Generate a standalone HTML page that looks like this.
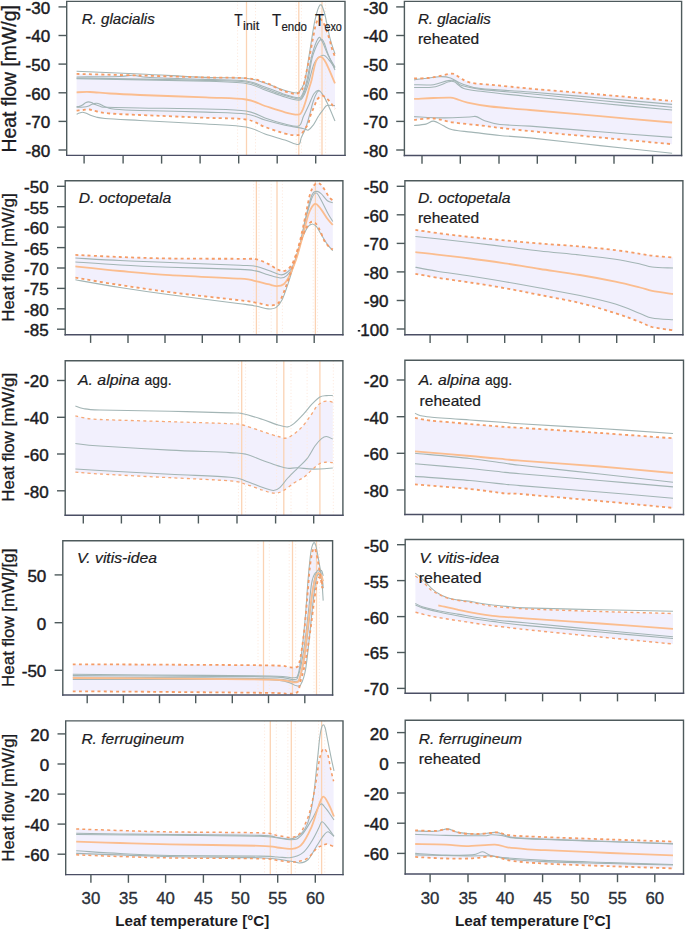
<!DOCTYPE html>
<html><head><meta charset="utf-8"><style>
html,body{margin:0;padding:0;background:#fff;}
svg{display:block;}
text{font-family:"Liberation Sans",sans-serif;fill:#1b1b22;}
.tk{font-size:17px;stroke:#1b1b22;stroke-width:0.45px;}
.xt{font-size:16.8px;fill:#2a2f38;stroke:#2a2f38;stroke-width:0.35px;}
.yl{font-size:16.9px;stroke:#1b1b22;stroke-width:0.3px;}
.sp{font-size:14.8px;font-style:italic;stroke:#1b1b22;stroke-width:0.2px;}
.sr{font-size:14.8px;stroke:#1b1b22;stroke-width:0.2px;}
.tt{font-size:16.6px;stroke:#1b1b22;stroke-width:0.2px;}
.ts{font-size:13px;stroke:#1b1b22;stroke-width:0.2px;}
.xl{font-size:15px;font-weight:bold;}
</style></head><body>
<svg width="685" height="930" viewBox="0 0 685 930">
<rect width="685" height="930" fill="#fff"/>
<path d="M76.6,73.9 C87.2,74.2 118.4,74.9 140.0,75.5 C161.6,76.1 188.3,77.0 206.0,77.4 C223.7,77.9 236.2,77.4 246.0,78.2 C255.8,79.0 259.3,80.6 265.0,82.5 C270.7,84.4 276.0,87.8 280.0,89.5 C284.0,91.2 286.4,91.8 289.0,92.5 C291.6,93.2 293.6,94.2 295.5,94.0 C297.4,93.8 299.4,92.7 300.7,91.3 C302.0,89.9 302.2,90.5 303.5,85.6 C304.8,80.6 307.1,69.0 308.6,61.6 C310.1,54.2 311.1,47.8 312.4,41.3 C313.7,34.8 315.0,26.6 316.3,22.9 C317.6,19.2 318.7,18.8 320.0,19.0 C321.3,19.2 322.5,20.8 324.0,23.9 C325.5,27.0 327.6,33.4 328.9,37.4 C330.2,41.4 330.8,44.7 331.8,48.0 C332.8,51.3 334.5,55.5 335.0,57.0 L335.0,109.0 C334.4,108.1 332.7,105.5 331.4,103.8 C330.1,102.1 328.9,100.3 327.3,99.0 C325.8,97.7 323.8,95.6 322.1,95.7 C320.4,95.8 318.5,97.9 317.3,99.4 C316.1,101.0 315.6,103.1 314.8,105.0 C314.0,106.9 313.2,108.6 312.4,110.6 C311.6,112.6 310.7,114.8 310.0,117.0 C309.3,119.2 309.2,121.6 308.4,123.5 C307.6,125.4 306.4,126.7 305.2,128.4 C304.0,130.2 302.7,132.9 301.1,134.0 C299.5,135.1 298.2,135.3 295.5,135.2 C292.8,135.1 290.1,135.0 285.0,133.6 C279.9,132.2 271.5,129.3 265.0,127.0 C258.5,124.7 255.8,121.0 246.0,119.5 C236.2,118.0 223.7,118.5 206.0,117.8 C188.3,117.0 156.0,115.7 140.0,115.0 C124.0,114.3 117.2,114.1 110.0,113.5 C102.8,112.9 100.4,112.2 97.0,111.5 C93.6,110.8 91.8,109.8 89.5,109.5 C87.2,109.2 85.2,109.8 83.0,110.0 C80.8,110.2 77.7,110.6 76.6,110.7 Z" fill="#f2f0fd" stroke="none"/>
<line x1="237.6" y1="1.4" x2="237.6" y2="155.4" stroke="#fdeadf" stroke-width="1" stroke-dasharray="1.2,2"/>
<line x1="255.5" y1="1.4" x2="255.5" y2="155.4" stroke="#fdeadf" stroke-width="1" stroke-dasharray="1.2,2"/>
<line x1="246.5" y1="1.4" x2="246.5" y2="155.4" stroke="#fbd3b4" stroke-width="1.3"/>
<line x1="296.2" y1="1.4" x2="296.2" y2="155.4" stroke="#fdeadf" stroke-width="1" stroke-dasharray="1.2,2"/>
<line x1="301.4" y1="1.4" x2="301.4" y2="155.4" stroke="#fdeadf" stroke-width="1" stroke-dasharray="1.2,2"/>
<line x1="298.8" y1="1.4" x2="298.8" y2="155.4" stroke="#fbd3b4" stroke-width="1.3"/>
<line x1="320.0" y1="1.4" x2="320.0" y2="155.4" stroke="#fdeadf" stroke-width="1" stroke-dasharray="1.2,2"/>
<line x1="325.6" y1="1.4" x2="325.6" y2="155.4" stroke="#fdeadf" stroke-width="1" stroke-dasharray="1.2,2"/>
<line x1="322.0" y1="1.4" x2="322.0" y2="155.4" stroke="#fbd3b4" stroke-width="1.3"/>
<path d="M76.6,71.2 C87.2,71.7 118.4,73.0 140.0,74.0 C161.6,75.0 188.3,76.7 206.0,77.4 C223.7,78.1 236.2,77.3 246.0,78.2 C255.8,79.1 258.5,81.0 265.0,83.0 C271.5,85.0 279.6,88.8 285.0,90.5 C290.4,92.2 294.4,93.2 297.1,92.9 C299.8,92.6 299.8,91.1 301.1,88.9 C302.4,86.8 303.5,86.5 305.0,80.0 C306.5,73.5 308.3,60.0 310.0,50.0 C311.7,40.0 313.3,27.5 315.0,20.0 C316.7,12.5 318.5,6.3 320.0,5.0 C321.5,3.7 322.5,6.5 324.2,12.0 C325.9,17.6 328.2,31.3 330.0,38.3 C331.8,45.3 334.2,51.4 335.0,54.0" fill="none" stroke="#a3b5b5" stroke-width="1.1"/>
<path d="M76.6,77.0 C83.8,76.9 110.6,76.8 120.0,76.5 C129.4,76.2 128.0,75.1 133.0,75.3 C138.0,75.5 137.8,76.8 150.0,77.5 C162.2,78.2 190.0,78.8 206.0,79.4 C222.0,80.0 236.2,79.7 246.0,81.0 C255.8,82.3 258.5,84.8 265.0,87.0 C271.5,89.2 279.4,92.7 285.0,94.5 C290.6,96.3 295.7,98.0 298.7,97.7 C301.7,97.5 301.6,96.0 303.0,93.0 C304.4,90.0 305.5,86.3 307.0,80.0 C308.5,73.7 310.1,61.9 312.0,55.0 C313.9,48.1 316.5,40.7 318.2,38.4 C319.9,36.1 320.4,38.2 322.0,41.0 C323.6,43.8 325.8,50.7 328.0,55.0 C330.2,59.3 333.8,65.0 335.0,67.0" fill="none" stroke="#a3b5b5" stroke-width="1.1"/>
<path d="M76.6,78.0 C98.2,78.4 177.8,79.7 206.0,80.4 C234.2,81.1 236.2,80.7 246.0,82.0 C255.8,83.3 258.5,86.2 265.0,88.5 C271.5,90.8 279.4,93.8 285.0,95.5 C290.6,97.2 295.7,99.1 298.7,99.0 C301.7,98.9 301.4,98.2 303.0,95.0 C304.6,91.8 306.3,86.7 308.0,80.0 C309.7,73.3 310.7,61.8 313.0,55.0 C315.3,48.2 319.1,39.6 321.6,39.4 C324.1,39.2 325.8,48.9 328.0,54.0 C330.2,59.1 333.8,67.3 335.0,70.0" fill="none" stroke="#a3b5b5" stroke-width="1.1"/>
<path d="M76.6,78.6 C98.2,79.0 177.8,80.4 206.0,81.2 C234.2,82.0 236.2,82.0 246.0,83.5 C255.8,85.0 258.5,87.8 265.0,90.0 C271.5,92.2 279.4,95.3 285.0,97.0 C290.6,98.7 295.7,100.2 298.7,100.2 C301.7,100.2 301.4,99.5 303.0,97.0 C304.6,94.5 306.1,90.7 308.0,85.0 C309.9,79.3 311.9,68.0 314.4,63.0 C316.9,58.0 320.7,55.8 323.1,55.3 C325.5,54.8 327.0,57.9 329.0,60.0 C331.0,62.1 334.0,66.7 335.0,68.0" fill="none" stroke="#a3b5b5" stroke-width="1.1"/>
<path d="M76.6,106.6 C77.1,106.6 78.5,106.7 79.5,106.4 C80.5,106.1 81.5,105.6 82.5,105.0 C83.5,104.4 84.5,103.3 85.5,102.8 C86.5,102.3 87.5,101.9 88.5,101.9 C89.5,101.9 90.4,102.2 91.5,102.6 C92.6,103.0 93.6,103.9 95.0,104.5 C96.4,105.1 98.0,105.8 100.0,106.3 C102.0,106.8 100.3,107.0 107.0,107.3 C113.7,107.6 123.5,107.7 140.0,108.0 C156.5,108.3 188.3,108.5 206.0,109.0 C223.7,109.5 236.2,109.5 246.0,111.0 C255.8,112.5 258.5,115.8 265.0,118.0 C271.5,120.2 279.4,122.7 285.0,124.0 C290.6,125.3 295.6,127.3 298.7,126.0 C301.8,124.7 301.8,119.9 303.5,116.3 C305.2,112.7 307.4,108.0 309.2,104.2 C310.9,100.4 312.4,96.0 314.0,93.7 C315.6,91.4 317.3,90.1 318.9,90.5 C320.5,90.9 322.1,93.5 323.7,96.1 C325.3,98.6 326.6,101.6 328.5,105.8 C330.4,110.0 333.9,118.5 335.0,121.0" fill="none" stroke="#a3b5b5" stroke-width="1.1"/>
<path d="M76.6,107.2 C77.8,107.2 82.1,107.2 84.0,107.0 C85.9,106.8 86.8,106.6 88.0,106.2 C89.2,105.8 90.0,105.2 91.0,104.8 C92.0,104.4 93.0,103.8 94.0,103.6 C95.0,103.3 95.8,103.2 96.7,103.3 C97.6,103.4 98.5,103.6 99.5,104.0 C100.5,104.4 101.6,105.2 103.0,105.8 C104.4,106.4 106.0,107.2 108.0,107.8 C110.0,108.4 109.7,108.8 115.0,109.2 C120.3,109.7 124.8,110.0 140.0,110.5 C155.2,111.0 188.3,111.5 206.0,112.1 C223.7,112.7 236.2,112.7 246.0,114.0 C255.8,115.3 258.5,118.1 265.0,120.0 C271.5,121.9 279.4,123.9 285.0,125.2 C290.6,126.5 295.3,126.9 298.7,127.6 C302.1,128.3 303.6,128.8 305.2,129.2 C306.8,129.6 307.1,130.7 308.4,130.0 C309.7,129.3 311.4,127.6 313.2,125.2 C314.9,122.8 317.1,118.2 318.9,115.5 C320.6,112.8 322.4,110.7 323.7,109.0 C325.0,107.3 325.0,106.0 326.9,105.4 C328.8,104.8 333.6,105.6 335.0,105.6" fill="none" stroke="#a3b5b5" stroke-width="1.1"/>
<path d="M76.6,114.2 C77.1,114.0 78.5,113.3 79.5,113.0 C80.5,112.7 81.3,112.3 82.3,112.3 C83.3,112.3 84.2,112.5 85.5,113.0 C86.8,113.5 88.2,114.3 90.0,115.0 C91.8,115.7 93.5,116.4 96.0,117.0 C98.5,117.6 97.7,117.9 105.0,118.5 C112.3,119.1 123.2,119.6 140.0,120.5 C156.8,121.4 188.3,122.9 206.0,124.0 C223.7,125.1 236.2,125.3 246.0,127.0 C255.8,128.7 258.5,131.8 265.0,134.0 C271.5,136.2 279.4,138.3 285.0,140.1 C290.6,141.8 295.6,144.8 298.3,144.5 C301.0,144.2 300.0,140.7 301.1,138.1 C302.2,135.5 303.9,132.7 305.2,129.2 C306.5,125.7 307.7,121.5 309.0,117.0 C310.3,112.5 311.7,106.1 313.0,102.0 C314.3,97.9 315.9,94.3 317.0,92.5 C318.1,90.7 319.1,91.2 319.5,91.0" fill="none" stroke="#a3b5b5" stroke-width="1.1"/>
<path d="M76.6,92.3 C78.8,92.2 84.4,91.8 90.0,92.0 C95.6,92.2 101.7,93.0 110.0,93.5 C118.3,94.0 124.0,94.3 140.0,95.0 C156.0,95.7 188.3,96.7 206.0,97.4 C223.7,98.2 236.2,98.1 246.0,99.5 C255.8,100.9 258.5,103.9 265.0,106.0 C271.5,108.1 279.5,110.8 285.0,112.3 C290.5,113.8 295.1,114.8 297.9,114.7 C300.7,114.6 300.5,113.9 301.9,111.5 C303.2,109.1 304.8,104.1 306.0,100.2 C307.2,96.3 308.3,91.4 309.2,88.0 C310.1,84.6 310.5,84.4 311.6,80.0 C312.7,75.6 314.3,65.6 315.8,61.7 C317.3,57.8 319.0,56.7 320.7,56.8 C322.4,56.9 323.4,58.1 325.8,62.5 C328.2,66.9 333.5,79.9 335.0,83.4" fill="none" stroke="#fbbd8f" stroke-width="1.8"/>
<path d="M76.6,73.9 C87.2,74.2 118.4,74.9 140.0,75.5 C161.6,76.1 188.3,77.0 206.0,77.4 C223.7,77.9 236.2,77.4 246.0,78.2 C255.8,79.0 259.3,80.6 265.0,82.5 C270.7,84.4 276.0,87.8 280.0,89.5 C284.0,91.2 286.4,91.8 289.0,92.5 C291.6,93.2 293.6,94.2 295.5,94.0 C297.4,93.8 299.4,92.7 300.7,91.3 C302.0,89.9 302.2,90.5 303.5,85.6 C304.8,80.6 307.1,69.0 308.6,61.6 C310.1,54.2 311.1,47.8 312.4,41.3 C313.7,34.8 315.0,26.6 316.3,22.9 C317.6,19.2 318.7,18.8 320.0,19.0 C321.3,19.2 322.5,20.8 324.0,23.9 C325.5,27.0 327.6,33.4 328.9,37.4 C330.2,41.4 330.8,44.7 331.8,48.0 C332.8,51.3 334.5,55.5 335.0,57.0" fill="none" stroke="#f59c66" stroke-width="1.80" stroke-dasharray="3,3.2"/>
<path d="M76.6,110.7 C77.7,110.6 80.8,110.2 83.0,110.0 C85.2,109.8 87.2,109.2 89.5,109.5 C91.8,109.8 93.6,110.8 97.0,111.5 C100.4,112.2 102.8,112.9 110.0,113.5 C117.2,114.1 124.0,114.3 140.0,115.0 C156.0,115.7 188.3,117.0 206.0,117.8 C223.7,118.5 236.2,118.0 246.0,119.5 C255.8,121.0 258.5,124.7 265.0,127.0 C271.5,129.3 279.9,132.2 285.0,133.6 C290.1,135.0 292.8,135.1 295.5,135.2 C298.2,135.3 299.5,135.1 301.1,134.0 C302.7,132.9 304.0,130.2 305.2,128.4 C306.4,126.7 307.6,125.4 308.4,123.5 C309.2,121.6 309.3,119.2 310.0,117.0 C310.7,114.8 311.6,112.6 312.4,110.6 C313.2,108.6 314.0,106.9 314.8,105.0 C315.6,103.1 316.1,101.0 317.3,99.4 C318.5,97.9 320.4,95.8 322.1,95.7 C323.8,95.6 325.8,97.7 327.3,99.0 C328.9,100.3 330.1,102.1 331.4,103.8 C332.7,105.5 334.4,108.1 335.0,109.0" fill="none" stroke="#f59c66" stroke-width="1.80" stroke-dasharray="3,3.2"/>
<path d="M66.7,155.4 V1.4 H345.0 V155.4" fill="none" stroke="#4e5a5c" stroke-width="1.4" stroke-linecap="square"/>
<line x1="66.7" y1="155.4" x2="345.0" y2="155.4" stroke="#4a4e64" stroke-width="1.4" stroke-linecap="square"/>
<line x1="58.5" y1="6.9" x2="66.7" y2="6.9" stroke="#4e5a5c" stroke-width="1.4"/>
<text x="50.2" y="13.8" text-anchor="end" class="tk">-30</text>
<line x1="58.5" y1="35.5" x2="66.7" y2="35.5" stroke="#4e5a5c" stroke-width="1.4"/>
<text x="50.2" y="42.4" text-anchor="end" class="tk">-40</text>
<line x1="58.5" y1="64.1" x2="66.7" y2="64.1" stroke="#4e5a5c" stroke-width="1.4"/>
<text x="50.2" y="71.0" text-anchor="end" class="tk">-50</text>
<line x1="58.5" y1="92.8" x2="66.7" y2="92.8" stroke="#4e5a5c" stroke-width="1.4"/>
<text x="50.2" y="99.7" text-anchor="end" class="tk">-60</text>
<line x1="58.5" y1="121.4" x2="66.7" y2="121.4" stroke="#4e5a5c" stroke-width="1.4"/>
<text x="50.2" y="128.3" text-anchor="end" class="tk">-70</text>
<line x1="58.5" y1="150.0" x2="66.7" y2="150.0" stroke="#4e5a5c" stroke-width="1.4"/>
<text x="50.2" y="156.9" text-anchor="end" class="tk">-80</text>
<line x1="84.1" y1="155.4" x2="84.1" y2="163.6" stroke="#4e5a5c" stroke-width="1.4"/>
<line x1="123.1" y1="155.4" x2="123.1" y2="163.6" stroke="#4e5a5c" stroke-width="1.4"/>
<line x1="161.6" y1="155.4" x2="161.6" y2="163.6" stroke="#4e5a5c" stroke-width="1.4"/>
<line x1="200.1" y1="155.4" x2="200.1" y2="163.6" stroke="#4e5a5c" stroke-width="1.4"/>
<line x1="238.7" y1="155.4" x2="238.7" y2="163.6" stroke="#4e5a5c" stroke-width="1.4"/>
<line x1="277.2" y1="155.4" x2="277.2" y2="163.6" stroke="#4e5a5c" stroke-width="1.4"/>
<line x1="315.7" y1="155.4" x2="315.7" y2="163.6" stroke="#4e5a5c" stroke-width="1.4"/>
<path d="M414.1,78.4 C416.4,78.3 423.6,78.4 427.8,78.0 C432.0,77.6 435.2,76.8 439.2,76.1 C443.1,75.4 448.7,73.8 451.5,73.7 C454.3,73.6 454.5,74.3 456.2,75.2 C457.9,76.1 459.4,77.7 461.9,79.0 C464.4,80.3 466.6,81.8 471.4,82.8 C476.1,83.8 484.1,84.1 490.4,84.7 C496.7,85.3 502.8,85.9 509.4,86.6 C516.0,87.2 514.9,87.3 530.0,88.6 C545.1,89.9 576.3,92.4 600.0,94.5 C623.7,96.6 660.1,99.9 672.1,101.0 L672.1,144.2 C660.1,143.1 623.7,139.7 600.0,137.5 C576.3,135.3 546.7,132.7 530.0,131.1 C513.3,129.5 508.1,128.8 499.9,127.9 C491.7,127.0 488.8,126.4 480.9,125.5 C473.0,124.6 460.3,123.5 452.4,122.3 C444.5,121.1 439.9,118.9 433.5,118.5 C427.1,118.1 417.3,119.6 414.1,119.8 Z" fill="#f2f0fd" stroke="none"/>
<path d="M414.1,79.9 C418.3,79.4 433.1,77.0 439.2,76.7 C445.3,76.4 446.7,76.8 450.5,78.0 C454.3,79.2 456.8,82.0 461.9,83.7 C467.0,85.5 469.5,87.1 480.9,88.5 C492.2,89.9 510.1,90.4 530.0,92.0 C549.9,93.6 576.3,95.9 600.0,98.0 C623.7,100.1 660.1,103.3 672.1,104.4" fill="none" stroke="#a3b5b5" stroke-width="1.1"/>
<path d="M414.1,84.7 C417.3,84.7 428.1,85.3 433.5,84.7 C438.9,84.1 443.3,81.6 446.8,80.9 C450.3,80.2 451.8,79.7 454.3,80.5 C456.8,81.3 457.5,84.1 461.9,85.6 C466.3,87.1 469.5,88.0 480.9,89.4 C492.2,90.8 510.1,92.0 530.0,93.8 C549.9,95.6 576.3,98.2 600.0,100.5 C623.7,102.8 660.1,106.2 672.1,107.3" fill="none" stroke="#a3b5b5" stroke-width="1.1"/>
<path d="M414.1,87.5 C417.3,87.4 427.7,88.0 433.5,87.0 C439.3,86.0 445.2,82.7 448.7,81.8 C452.2,80.9 451.8,80.7 454.3,81.8 C456.8,82.9 459.4,86.9 463.8,88.5 C468.2,90.1 469.9,89.9 480.9,91.3 C491.9,92.7 510.1,94.7 530.0,96.7 C549.9,98.7 576.3,101.1 600.0,103.3 C623.7,105.5 660.1,108.9 672.1,110.0" fill="none" stroke="#a3b5b5" stroke-width="1.1"/>
<path d="M414.1,116.6 C418.9,116.8 433.8,117.8 443.0,117.9 C452.2,118.0 464.0,117.2 469.5,117.0 C475.0,116.8 473.7,116.0 476.2,116.6 C478.7,117.2 480.8,119.4 484.7,120.7 C488.6,122.0 492.3,123.6 499.9,124.5 C507.4,125.4 513.3,124.9 530.0,126.1 C546.7,127.3 576.3,129.9 600.0,131.8 C623.7,133.7 660.1,136.5 672.1,137.4" fill="none" stroke="#a3b5b5" stroke-width="1.1"/>
<path d="M414.1,125.5 C416.1,125.3 422.7,124.8 425.9,124.1 C429.1,123.4 430.6,120.9 433.5,121.1 C436.4,121.3 439.9,124.0 443.0,125.5 C446.1,127.0 447.7,128.7 452.4,129.8 C457.1,130.9 463.5,131.2 471.4,132.1 C479.3,133.0 490.1,134.5 499.9,135.5 C509.7,136.5 513.3,136.2 530.0,137.9 C546.7,139.6 576.3,143.0 600.0,145.6 C623.7,148.2 660.1,152.0 672.1,153.3" fill="none" stroke="#a3b5b5" stroke-width="1.1"/>
<path d="M414.1,98.9 C417.3,98.8 427.4,98.2 433.5,98.0 C439.6,97.8 446.7,97.4 450.5,97.6 C454.3,97.8 453.3,98.1 456.2,98.9 C459.1,99.8 461.9,101.4 467.6,102.7 C473.3,104.0 480.0,105.3 490.4,106.5 C500.8,107.7 511.7,108.4 530.0,110.0 C548.3,111.6 576.3,114.1 600.0,116.2 C623.7,118.3 660.1,121.5 672.1,122.5" fill="none" stroke="#fbbd8f" stroke-width="1.8"/>
<path d="M414.1,78.4 C416.4,78.3 423.6,78.4 427.8,78.0 C432.0,77.6 435.2,76.8 439.2,76.1 C443.1,75.4 448.7,73.8 451.5,73.7 C454.3,73.6 454.5,74.3 456.2,75.2 C457.9,76.1 459.4,77.7 461.9,79.0 C464.4,80.3 466.6,81.8 471.4,82.8 C476.1,83.8 484.1,84.1 490.4,84.7 C496.7,85.3 502.8,85.9 509.4,86.6 C516.0,87.2 514.9,87.3 530.0,88.6 C545.1,89.9 576.3,92.4 600.0,94.5 C623.7,96.6 660.1,99.9 672.1,101.0" fill="none" stroke="#f59c66" stroke-width="1.80" stroke-dasharray="3,3.2"/>
<path d="M414.1,119.8 C417.3,119.6 427.1,118.1 433.5,118.5 C439.9,118.9 444.5,121.1 452.4,122.3 C460.3,123.5 473.0,124.6 480.9,125.5 C488.8,126.4 491.7,127.0 499.9,127.9 C508.1,128.8 513.3,129.5 530.0,131.1 C546.7,132.7 576.3,135.3 600.0,137.5 C623.7,139.7 660.1,143.1 672.1,144.2" fill="none" stroke="#f59c66" stroke-width="1.80" stroke-dasharray="3,3.2"/>
<path d="M404.4,155.5 V1.4 H681.6 V155.5" fill="none" stroke="#4e5a5c" stroke-width="1.4" stroke-linecap="square"/>
<line x1="404.4" y1="155.5" x2="681.6" y2="155.5" stroke="#4a4e64" stroke-width="1.4" stroke-linecap="square"/>
<line x1="396.2" y1="6.9" x2="404.4" y2="6.9" stroke="#4e5a5c" stroke-width="1.4"/>
<text x="387.9" y="13.8" text-anchor="end" class="tk">-30</text>
<line x1="396.2" y1="35.5" x2="404.4" y2="35.5" stroke="#4e5a5c" stroke-width="1.4"/>
<text x="387.9" y="42.4" text-anchor="end" class="tk">-40</text>
<line x1="396.2" y1="64.1" x2="404.4" y2="64.1" stroke="#4e5a5c" stroke-width="1.4"/>
<text x="387.9" y="71.0" text-anchor="end" class="tk">-50</text>
<line x1="396.2" y1="92.8" x2="404.4" y2="92.8" stroke="#4e5a5c" stroke-width="1.4"/>
<text x="387.9" y="99.7" text-anchor="end" class="tk">-60</text>
<line x1="396.2" y1="121.4" x2="404.4" y2="121.4" stroke="#4e5a5c" stroke-width="1.4"/>
<text x="387.9" y="128.3" text-anchor="end" class="tk">-70</text>
<line x1="396.2" y1="150.0" x2="404.4" y2="150.0" stroke="#4e5a5c" stroke-width="1.4"/>
<text x="387.9" y="156.9" text-anchor="end" class="tk">-80</text>
<line x1="422.0" y1="155.5" x2="422.0" y2="163.7" stroke="#4e5a5c" stroke-width="1.4"/>
<line x1="460.3" y1="155.5" x2="460.3" y2="163.7" stroke="#4e5a5c" stroke-width="1.4"/>
<line x1="499.0" y1="155.5" x2="499.0" y2="163.7" stroke="#4e5a5c" stroke-width="1.4"/>
<line x1="537.3" y1="155.5" x2="537.3" y2="163.7" stroke="#4e5a5c" stroke-width="1.4"/>
<line x1="575.6" y1="155.5" x2="575.6" y2="163.7" stroke="#4e5a5c" stroke-width="1.4"/>
<line x1="614.0" y1="155.5" x2="614.0" y2="163.7" stroke="#4e5a5c" stroke-width="1.4"/>
<line x1="652.6" y1="155.5" x2="652.6" y2="163.7" stroke="#4e5a5c" stroke-width="1.4"/>
<path d="M75.4,254.9 C82.8,255.2 104.2,256.4 120.0,257.0 C135.8,257.6 150.0,258.2 170.0,258.5 C190.0,258.8 225.7,258.7 240.0,258.8 C254.3,258.9 250.9,258.4 255.6,259.2 C260.3,260.0 264.5,262.2 268.1,263.9 C271.7,265.6 274.8,268.2 277.4,269.4 C280.0,270.6 281.9,271.1 283.7,271.0 C285.5,270.9 286.8,270.0 288.4,268.6 C289.9,267.2 291.2,266.6 293.0,262.4 C294.8,258.2 297.2,251.4 299.3,243.6 C301.4,235.8 303.7,223.9 305.5,215.6 C307.3,207.3 308.6,198.9 310.2,193.7 C311.8,188.5 313.3,186.1 314.9,184.4 C316.5,182.7 318.1,182.8 319.6,183.6 C321.2,184.4 322.6,186.8 324.2,189.0 C325.8,191.2 327.5,194.9 328.9,196.8 C330.3,198.7 332.1,199.9 332.8,200.5 L332.8,249.6 C332.1,249.1 330.3,248.3 328.9,246.8 C327.5,245.3 325.8,243.4 324.2,240.5 C322.6,237.6 321.2,232.6 319.6,229.6 C318.1,226.6 316.5,223.8 314.9,222.6 C313.3,221.4 311.8,221.4 310.2,222.6 C308.6,223.8 307.3,225.8 305.5,229.6 C303.7,233.4 301.4,239.2 299.3,245.2 C297.2,251.2 295.1,259.0 293.0,265.5 C290.9,272.0 288.9,278.5 286.8,284.2 C284.7,289.9 282.4,296.4 280.6,299.8 C278.8,303.2 278.0,303.6 275.9,304.5 C273.8,305.4 271.5,305.6 268.1,305.3 C264.7,305.0 260.3,303.4 255.6,302.6 C250.9,301.8 254.3,302.0 240.0,300.3 C225.7,298.6 190.0,294.8 170.0,292.2 C150.0,289.6 135.8,287.4 120.0,285.0 C104.2,282.6 82.8,278.9 75.4,277.7 Z" fill="#f2f0fd" stroke="none"/>
<line x1="253.7" y1="180.7" x2="253.7" y2="334.7" stroke="#fdeadf" stroke-width="1" stroke-dasharray="1.2,2"/>
<line x1="259.0" y1="180.7" x2="259.0" y2="334.7" stroke="#fdeadf" stroke-width="1" stroke-dasharray="1.2,2"/>
<line x1="256.4" y1="180.7" x2="256.4" y2="334.7" stroke="#fbd3b4" stroke-width="1.3"/>
<line x1="271.2" y1="180.7" x2="271.2" y2="334.7" stroke="#fdeadf" stroke-width="1" stroke-dasharray="1.2,2"/>
<line x1="282.4" y1="180.7" x2="282.4" y2="334.7" stroke="#fdeadf" stroke-width="1" stroke-dasharray="1.2,2"/>
<line x1="277.0" y1="180.7" x2="277.0" y2="334.7" stroke="#fbd3b4" stroke-width="1.3"/>
<line x1="313.2" y1="180.7" x2="313.2" y2="334.7" stroke="#fdeadf" stroke-width="1" stroke-dasharray="1.2,2"/>
<line x1="317.6" y1="180.7" x2="317.6" y2="334.7" stroke="#fdeadf" stroke-width="1" stroke-dasharray="1.2,2"/>
<line x1="315.4" y1="180.7" x2="315.4" y2="334.7" stroke="#fbd3b4" stroke-width="1.3"/>
<path d="M75.4,258.0 C82.8,258.4 104.2,259.8 120.0,260.5 C135.8,261.2 150.0,261.7 170.0,262.5 C190.0,263.3 225.7,264.6 240.0,265.2 C254.3,265.8 250.9,265.5 255.6,266.3 C260.3,267.1 263.9,268.8 268.1,270.2 C272.3,271.6 277.5,274.4 280.6,274.8 C283.7,275.2 284.7,274.1 286.8,272.5 C288.9,270.9 290.9,269.8 293.0,265.5 C295.1,261.2 297.2,254.6 299.3,246.8 C301.4,239.0 303.4,227.3 305.5,218.7 C307.6,210.1 310.0,199.9 311.8,195.3 C313.6,190.8 314.8,191.7 316.4,191.4 C317.9,191.1 319.3,192.1 321.1,193.7 C322.9,195.2 325.4,199.2 327.4,200.7 C329.3,202.2 331.9,202.5 332.8,202.8" fill="none" stroke="#a3b5b5" stroke-width="1.1"/>
<path d="M75.4,262.0 C82.8,262.5 104.2,264.1 120.0,265.0 C135.8,265.9 150.0,266.5 170.0,267.2 C190.0,267.9 225.7,268.8 240.0,269.4 C254.3,270.0 250.9,270.0 255.6,270.9 C260.3,271.8 263.9,273.6 268.1,274.8 C272.3,276.0 277.5,277.9 280.6,278.0 C283.7,278.1 284.7,277.4 286.8,275.6 C288.9,273.8 290.9,271.6 293.0,267.0 C295.1,262.4 297.2,256.1 299.3,248.3 C301.4,240.5 303.4,228.5 305.5,220.2 C307.6,211.9 310.0,202.9 311.8,198.4 C313.6,193.9 314.8,192.7 316.4,193.0 C317.9,193.3 319.3,196.8 321.1,200.0 C322.9,203.2 325.4,208.8 327.4,212.4 C329.3,216.0 331.9,220.0 332.8,221.5" fill="none" stroke="#a3b5b5" stroke-width="1.1"/>
<path d="M75.4,279.8 C82.8,281.1 104.2,285.0 120.0,287.5 C135.8,290.0 150.0,292.1 170.0,294.8 C190.0,297.5 225.7,301.8 240.0,303.7 C254.3,305.6 250.9,305.1 255.6,306.0 C260.3,306.9 264.7,308.6 268.1,308.9 C271.5,309.2 273.6,309.1 275.9,307.6 C278.2,306.1 280.0,304.0 282.1,299.8 C284.2,295.6 286.3,288.8 288.4,282.6 C290.5,276.4 292.5,269.1 294.6,262.4 C296.7,255.6 298.7,247.8 300.8,242.1 C302.9,236.4 305.3,231.0 307.1,228.0 C308.9,225.0 310.2,224.3 311.8,224.1 C313.4,223.8 314.8,224.8 316.4,226.5 C317.9,228.2 319.3,231.3 321.1,234.3 C322.9,237.3 325.4,241.7 327.4,244.4 C329.3,247.1 331.9,249.6 332.8,250.7" fill="none" stroke="#a3b5b5" stroke-width="1.1"/>
<path d="M75.4,266.4 C82.8,267.2 104.2,269.6 120.0,271.0 C135.8,272.4 150.0,273.8 170.0,275.1 C190.0,276.4 225.7,277.7 240.0,278.7 C254.3,279.7 250.9,280.2 255.6,281.1 C260.3,282.0 264.6,283.4 268.1,284.2 C271.6,285.0 274.1,286.1 276.7,286.1 C279.3,286.1 281.5,286.1 283.7,284.2 C285.9,282.3 287.8,279.0 289.9,274.8 C292.0,270.6 294.1,265.4 296.2,259.2 C298.3,253.0 300.3,244.9 302.4,237.4 C304.5,229.9 306.5,219.6 308.6,214.0 C310.7,208.4 312.8,204.7 314.9,203.9 C317.0,203.1 319.0,206.8 321.1,209.3 C323.2,211.8 325.4,216.1 327.4,218.7 C329.3,221.3 331.9,223.9 332.8,224.9" fill="none" stroke="#fbbd8f" stroke-width="1.8"/>
<path d="M75.4,254.9 C82.8,255.2 104.2,256.4 120.0,257.0 C135.8,257.6 150.0,258.2 170.0,258.5 C190.0,258.8 225.7,258.7 240.0,258.8 C254.3,258.9 250.9,258.4 255.6,259.2 C260.3,260.0 264.5,262.2 268.1,263.9 C271.7,265.6 274.8,268.2 277.4,269.4 C280.0,270.6 281.9,271.1 283.7,271.0 C285.5,270.9 286.8,270.0 288.4,268.6 C289.9,267.2 291.2,266.6 293.0,262.4 C294.8,258.2 297.2,251.4 299.3,243.6 C301.4,235.8 303.7,223.9 305.5,215.6 C307.3,207.3 308.6,198.9 310.2,193.7 C311.8,188.5 313.3,186.1 314.9,184.4 C316.5,182.7 318.1,182.8 319.6,183.6 C321.2,184.4 322.6,186.8 324.2,189.0 C325.8,191.2 327.5,194.9 328.9,196.8 C330.3,198.7 332.1,199.9 332.8,200.5" fill="none" stroke="#f59c66" stroke-width="1.80" stroke-dasharray="3,3.2"/>
<path d="M75.4,277.7 C82.8,278.9 104.2,282.6 120.0,285.0 C135.8,287.4 150.0,289.6 170.0,292.2 C190.0,294.8 225.7,298.6 240.0,300.3 C254.3,302.0 250.9,301.8 255.6,302.6 C260.3,303.4 264.7,305.0 268.1,305.3 C271.5,305.6 273.8,305.4 275.9,304.5 C278.0,303.6 278.8,303.2 280.6,299.8 C282.4,296.4 284.7,289.9 286.8,284.2 C288.9,278.5 290.9,272.0 293.0,265.5 C295.1,259.0 297.2,251.2 299.3,245.2 C301.4,239.2 303.7,233.4 305.5,229.6 C307.3,225.8 308.6,223.8 310.2,222.6 C311.8,221.4 313.3,221.4 314.9,222.6 C316.5,223.8 318.1,226.6 319.6,229.6 C321.2,232.6 322.6,237.6 324.2,240.5 C325.8,243.4 327.5,245.3 328.9,246.8 C330.3,248.3 332.1,249.1 332.8,249.6" fill="none" stroke="#f59c66" stroke-width="1.80" stroke-dasharray="3,3.2"/>
<path d="M65.2,334.7 V180.7 H342.9 V334.7" fill="none" stroke="#4e5a5c" stroke-width="1.4" stroke-linecap="square"/>
<line x1="65.2" y1="334.7" x2="342.9" y2="334.7" stroke="#4a4e64" stroke-width="1.4" stroke-linecap="square"/>
<line x1="57.0" y1="186.3" x2="65.2" y2="186.3" stroke="#4e5a5c" stroke-width="1.4"/>
<text x="48.7" y="193.2" text-anchor="end" class="tk">-50</text>
<line x1="57.0" y1="206.7" x2="65.2" y2="206.7" stroke="#4e5a5c" stroke-width="1.4"/>
<text x="48.7" y="213.6" text-anchor="end" class="tk">-55</text>
<line x1="57.0" y1="227.1" x2="65.2" y2="227.1" stroke="#4e5a5c" stroke-width="1.4"/>
<text x="48.7" y="234.0" text-anchor="end" class="tk">-60</text>
<line x1="57.0" y1="247.6" x2="65.2" y2="247.6" stroke="#4e5a5c" stroke-width="1.4"/>
<text x="48.7" y="254.5" text-anchor="end" class="tk">-65</text>
<line x1="57.0" y1="268.0" x2="65.2" y2="268.0" stroke="#4e5a5c" stroke-width="1.4"/>
<text x="48.7" y="274.9" text-anchor="end" class="tk">-70</text>
<line x1="57.0" y1="288.4" x2="65.2" y2="288.4" stroke="#4e5a5c" stroke-width="1.4"/>
<text x="48.7" y="295.3" text-anchor="end" class="tk">-75</text>
<line x1="57.0" y1="308.8" x2="65.2" y2="308.8" stroke="#4e5a5c" stroke-width="1.4"/>
<text x="48.7" y="315.7" text-anchor="end" class="tk">-80</text>
<line x1="57.0" y1="329.2" x2="65.2" y2="329.2" stroke="#4e5a5c" stroke-width="1.4"/>
<text x="48.7" y="336.1" text-anchor="end" class="tk">-85</text>
<line x1="90.6" y1="334.7" x2="90.6" y2="342.9" stroke="#4e5a5c" stroke-width="1.4"/>
<line x1="128.0" y1="334.7" x2="128.0" y2="342.9" stroke="#4e5a5c" stroke-width="1.4"/>
<line x1="165.0" y1="334.7" x2="165.0" y2="342.9" stroke="#4e5a5c" stroke-width="1.4"/>
<line x1="202.3" y1="334.7" x2="202.3" y2="342.9" stroke="#4e5a5c" stroke-width="1.4"/>
<line x1="239.6" y1="334.7" x2="239.6" y2="342.9" stroke="#4e5a5c" stroke-width="1.4"/>
<line x1="276.9" y1="334.7" x2="276.9" y2="342.9" stroke="#4e5a5c" stroke-width="1.4"/>
<line x1="314.2" y1="334.7" x2="314.2" y2="342.9" stroke="#4e5a5c" stroke-width="1.4"/>
<path d="M415.4,229.9 C419.0,230.4 428.1,231.8 437.2,233.0 C446.3,234.2 458.7,235.8 470.0,237.0 C481.3,238.2 493.3,239.3 505.0,240.4 C516.7,241.5 527.5,242.5 540.0,243.5 C552.5,244.5 567.4,245.4 580.0,246.5 C592.6,247.6 605.4,248.9 615.4,250.1 C625.4,251.3 633.4,252.8 640.0,253.8 C646.6,254.8 649.5,255.4 655.0,256.0 C660.5,256.6 670.0,257.2 673.0,257.4 L673.0,330.3 C669.5,329.8 657.6,328.4 652.1,327.0 C646.6,325.6 646.1,324.3 640.0,322.0 C633.9,319.7 625.4,316.4 615.4,313.2 C605.4,310.0 592.6,306.0 580.0,303.0 C567.4,300.0 552.5,297.5 540.0,295.0 C527.5,292.5 516.7,290.3 505.0,288.2 C493.3,286.1 481.3,284.2 470.0,282.5 C458.7,280.8 446.3,279.1 437.2,277.7 C428.1,276.2 419.0,274.4 415.4,273.8 Z" fill="#f2f0fd" stroke="none"/>
<path d="M415.4,236.5 C419.0,236.9 428.1,237.8 437.2,238.8 C446.3,239.8 458.7,241.2 470.0,242.5 C481.3,243.8 493.3,245.3 505.0,246.7 C516.7,248.1 527.5,249.6 540.0,251.0 C552.5,252.4 567.4,253.6 580.0,255.0 C592.6,256.4 605.4,257.8 615.4,259.3 C625.4,260.8 633.9,262.7 640.0,264.0 C646.1,265.3 646.6,266.3 652.1,267.0 C657.6,267.7 669.5,267.8 673.0,268.0" fill="none" stroke="#a3b5b5" stroke-width="1.1"/>
<path d="M415.4,267.2 C419.0,267.9 428.1,269.7 437.2,271.2 C446.3,272.7 458.7,274.2 470.0,276.0 C481.3,277.8 493.3,279.7 505.0,281.7 C516.7,283.7 527.5,285.7 540.0,288.0 C552.5,290.3 567.4,292.8 580.0,295.5 C592.6,298.2 605.4,301.0 615.4,304.0 C625.4,307.0 633.9,311.2 640.0,313.5 C646.1,315.8 646.6,316.9 652.1,318.0 C657.6,319.1 669.5,319.5 673.0,319.8" fill="none" stroke="#a3b5b5" stroke-width="1.1"/>
<path d="M415.4,252.2 C419.0,252.6 428.1,253.5 437.2,254.6 C446.3,255.7 458.7,257.1 470.0,258.5 C481.3,259.9 493.3,261.6 505.0,263.3 C516.7,265.1 527.5,267.1 540.0,269.0 C552.5,270.9 567.4,272.9 580.0,275.0 C592.6,277.1 605.4,279.6 615.4,281.7 C625.4,283.8 633.9,286.0 640.0,287.5 C646.1,289.0 646.6,289.8 652.1,290.9 C657.6,292.0 669.5,293.5 673.0,294.0" fill="none" stroke="#fbbd8f" stroke-width="1.8"/>
<path d="M415.4,229.9 C419.0,230.4 428.1,231.8 437.2,233.0 C446.3,234.2 458.7,235.8 470.0,237.0 C481.3,238.2 493.3,239.3 505.0,240.4 C516.7,241.5 527.5,242.5 540.0,243.5 C552.5,244.5 567.4,245.4 580.0,246.5 C592.6,247.6 605.4,248.9 615.4,250.1 C625.4,251.3 633.4,252.8 640.0,253.8 C646.6,254.8 649.5,255.4 655.0,256.0 C660.5,256.6 670.0,257.2 673.0,257.4" fill="none" stroke="#f59c66" stroke-width="1.80" stroke-dasharray="3,3.2"/>
<path d="M415.4,273.8 C419.0,274.4 428.1,276.2 437.2,277.7 C446.3,279.1 458.7,280.8 470.0,282.5 C481.3,284.2 493.3,286.1 505.0,288.2 C516.7,290.3 527.5,292.5 540.0,295.0 C552.5,297.5 567.4,300.0 580.0,303.0 C592.6,306.0 605.4,310.0 615.4,313.2 C625.4,316.4 633.9,319.7 640.0,322.0 C646.1,324.3 646.6,325.6 652.1,327.0 C657.6,328.4 669.5,329.8 673.0,330.3" fill="none" stroke="#f59c66" stroke-width="1.80" stroke-dasharray="3,3.2"/>
<path d="M404.9,334.7 V180.7 H682.9 V334.7" fill="none" stroke="#4e5a5c" stroke-width="1.4" stroke-linecap="square"/>
<line x1="404.9" y1="334.7" x2="682.9" y2="334.7" stroke="#4a4e64" stroke-width="1.4" stroke-linecap="square"/>
<line x1="396.7" y1="186.3" x2="404.9" y2="186.3" stroke="#4e5a5c" stroke-width="1.4"/>
<text x="388.4" y="193.2" text-anchor="end" class="tk">-50</text>
<line x1="396.7" y1="214.8" x2="404.9" y2="214.8" stroke="#4e5a5c" stroke-width="1.4"/>
<text x="388.4" y="221.7" text-anchor="end" class="tk">-60</text>
<line x1="396.7" y1="243.4" x2="404.9" y2="243.4" stroke="#4e5a5c" stroke-width="1.4"/>
<text x="388.4" y="250.3" text-anchor="end" class="tk">-70</text>
<line x1="396.7" y1="271.9" x2="404.9" y2="271.9" stroke="#4e5a5c" stroke-width="1.4"/>
<text x="388.4" y="278.8" text-anchor="end" class="tk">-80</text>
<line x1="396.7" y1="300.5" x2="404.9" y2="300.5" stroke="#4e5a5c" stroke-width="1.4"/>
<text x="388.4" y="307.4" text-anchor="end" class="tk">-90</text>
<line x1="396.7" y1="329.0" x2="404.9" y2="329.0" stroke="#4e5a5c" stroke-width="1.4"/>
<line x1="430.1" y1="334.7" x2="430.1" y2="342.9" stroke="#4e5a5c" stroke-width="1.4"/>
<line x1="467.4" y1="334.7" x2="467.4" y2="342.9" stroke="#4e5a5c" stroke-width="1.4"/>
<line x1="504.7" y1="334.7" x2="504.7" y2="342.9" stroke="#4e5a5c" stroke-width="1.4"/>
<line x1="541.8" y1="334.7" x2="541.8" y2="342.9" stroke="#4e5a5c" stroke-width="1.4"/>
<line x1="579.4" y1="334.7" x2="579.4" y2="342.9" stroke="#4e5a5c" stroke-width="1.4"/>
<line x1="616.7" y1="334.7" x2="616.7" y2="342.9" stroke="#4e5a5c" stroke-width="1.4"/>
<line x1="654.2" y1="334.7" x2="654.2" y2="342.9" stroke="#4e5a5c" stroke-width="1.4"/>
<path d="M75.4,415.9 C77.0,416.2 80.9,417.4 85.0,418.0 C89.1,418.6 85.8,418.9 100.0,419.5 C114.2,420.1 148.3,421.0 170.0,421.7 C191.7,422.4 217.9,423.1 230.0,423.7 C242.1,424.2 237.5,423.7 242.8,425.0 C248.2,426.3 256.2,429.5 262.1,431.4 C268.0,433.3 274.2,435.4 278.2,436.5 C282.2,437.6 283.5,438.6 286.2,438.1 C288.9,437.7 291.5,435.7 294.2,433.8 C296.9,431.9 299.6,429.6 302.3,426.6 C305.0,423.7 307.9,419.5 310.3,416.1 C312.7,412.8 314.6,408.9 316.7,406.5 C318.8,404.1 321.0,402.6 323.1,401.7 C325.2,400.8 328.0,401.3 329.6,401.4 C331.2,401.5 332.3,402.3 332.8,402.5 L332.8,462.7 C331.7,462.6 328.5,462.1 326.4,462.2 C324.2,462.3 322.3,462.2 319.9,463.5 C317.5,464.8 314.6,467.6 311.9,469.9 C309.2,472.2 306.8,475.0 303.9,477.2 C300.9,479.4 297.7,480.5 294.2,482.8 C290.7,485.1 286.3,489.1 283.0,490.8 C279.7,492.5 277.7,493.3 274.2,493.2 C270.7,493.1 266.8,491.5 262.1,490.0 C257.4,488.5 251.4,485.9 246.1,484.4 C240.8,482.9 242.7,482.0 230.0,480.9 C217.3,479.8 191.7,478.8 170.0,477.7 C148.3,476.6 115.8,474.9 100.0,474.0 C84.2,473.1 79.5,472.5 75.4,472.2 Z" fill="#f2f0fd" stroke="none"/>
<line x1="238.4" y1="360.8" x2="238.4" y2="515.3" stroke="#fdeadf" stroke-width="1" stroke-dasharray="1.2,2"/>
<line x1="245.6" y1="360.8" x2="245.6" y2="515.3" stroke="#fdeadf" stroke-width="1" stroke-dasharray="1.2,2"/>
<line x1="241.7" y1="360.8" x2="241.7" y2="515.3" stroke="#fbd3b4" stroke-width="1.3"/>
<line x1="276.6" y1="360.8" x2="276.6" y2="515.3" stroke="#fdeadf" stroke-width="1" stroke-dasharray="1.2,2"/>
<line x1="291.0" y1="360.8" x2="291.0" y2="515.3" stroke="#fdeadf" stroke-width="1" stroke-dasharray="1.2,2"/>
<line x1="283.8" y1="360.8" x2="283.8" y2="515.3" stroke="#fbd3b4" stroke-width="1.3"/>
<line x1="307.1" y1="360.8" x2="307.1" y2="515.3" stroke="#fdeadf" stroke-width="1" stroke-dasharray="1.2,2"/>
<line x1="333.3" y1="360.8" x2="333.3" y2="515.3" stroke="#fdeadf" stroke-width="1" stroke-dasharray="1.2,2"/>
<line x1="319.9" y1="360.8" x2="319.9" y2="515.3" stroke="#fbd3b4" stroke-width="1.3"/>
<path d="M75.4,406.0 C76.7,406.4 78.9,407.8 83.0,408.5 C87.1,409.2 85.5,409.6 100.0,410.0 C114.5,410.4 148.3,410.7 170.0,411.2 C191.7,411.7 217.9,412.5 230.0,412.9 C242.1,413.3 237.5,412.6 242.8,413.7 C248.2,414.8 256.2,417.4 262.1,419.3 C268.0,421.2 273.9,423.7 278.2,425.0 C282.5,426.3 285.1,427.2 287.8,426.9 C290.5,426.6 291.5,425.6 294.2,423.4 C296.9,421.2 300.9,416.9 303.9,413.7 C306.8,410.5 309.2,406.9 311.9,404.1 C314.6,401.3 317.5,398.3 319.9,396.9 C322.3,395.5 324.2,395.8 326.4,395.6 C328.5,395.4 331.7,395.6 332.8,395.6" fill="none" stroke="#a3b5b5" stroke-width="1.1"/>
<path d="M75.4,443.5 C79.5,443.9 84.2,444.9 100.0,446.0 C115.8,447.1 148.3,449.0 170.0,450.1 C191.7,451.2 217.3,451.9 230.0,452.6 C242.7,453.3 240.8,452.9 246.1,454.2 C251.4,455.5 256.8,458.4 262.1,460.3 C267.5,462.2 273.9,464.6 278.2,465.9 C282.5,467.2 284.6,468.0 287.8,468.3 C291.0,468.6 293.1,467.7 297.4,467.8 C301.7,467.9 307.6,469.1 313.5,469.1 C319.4,469.1 329.6,468.2 332.8,468.0" fill="none" stroke="#a3b5b5" stroke-width="1.1"/>
<path d="M75.4,469.0 C79.5,469.2 84.2,469.6 100.0,470.5 C115.8,471.4 148.3,473.2 170.0,474.3 C191.7,475.4 217.3,476.1 230.0,477.2 C242.7,478.3 240.8,479.5 246.1,481.2 C251.4,482.9 257.6,485.8 262.1,487.3 C266.7,488.9 270.4,490.4 273.4,490.5 C276.3,490.6 277.4,489.7 279.8,487.6 C282.2,485.5 284.9,481.2 287.8,478.0 C290.7,474.8 294.2,471.5 297.4,468.3 C300.6,465.1 304.2,462.4 307.1,458.7 C310.1,454.9 312.7,449.1 315.1,445.8 C317.5,442.5 319.6,440.2 321.5,438.6 C323.4,437.1 324.5,436.4 326.4,436.5 C328.3,436.6 331.7,438.7 332.8,439.1" fill="none" stroke="#a3b5b5" stroke-width="1.1"/>
<path d="M75.4,415.9 C77.0,416.2 80.9,417.4 85.0,418.0 C89.1,418.6 85.8,418.9 100.0,419.5 C114.2,420.1 148.3,421.0 170.0,421.7 C191.7,422.4 217.9,423.1 230.0,423.7 C242.1,424.2 237.5,423.7 242.8,425.0 C248.2,426.3 256.2,429.5 262.1,431.4 C268.0,433.3 274.2,435.4 278.2,436.5 C282.2,437.6 283.5,438.6 286.2,438.1 C288.9,437.7 291.5,435.7 294.2,433.8 C296.9,431.9 299.6,429.6 302.3,426.6 C305.0,423.7 307.9,419.5 310.3,416.1 C312.7,412.8 314.6,408.9 316.7,406.5 C318.8,404.1 321.0,402.6 323.1,401.7 C325.2,400.8 328.0,401.3 329.6,401.4 C331.2,401.5 332.3,402.3 332.8,402.5" fill="none" stroke="#f6a877" stroke-width="1.30" stroke-dasharray="3,3.2"/>
<path d="M75.4,472.2 C79.5,472.5 84.2,473.1 100.0,474.0 C115.8,474.9 148.3,476.6 170.0,477.7 C191.7,478.8 217.3,479.8 230.0,480.9 C242.7,482.0 240.8,482.9 246.1,484.4 C251.4,485.9 257.4,488.5 262.1,490.0 C266.8,491.5 270.7,493.1 274.2,493.2 C277.7,493.3 279.7,492.5 283.0,490.8 C286.3,489.1 290.7,485.1 294.2,482.8 C297.7,480.5 300.9,479.4 303.9,477.2 C306.8,475.0 309.2,472.2 311.9,469.9 C314.6,467.6 317.5,464.8 319.9,463.5 C322.3,462.2 324.2,462.3 326.4,462.2 C328.5,462.1 331.7,462.6 332.8,462.7" fill="none" stroke="#f6a877" stroke-width="1.30" stroke-dasharray="3,3.2"/>
<path d="M65.2,515.3 V360.8 H342.9 V515.3" fill="none" stroke="#4e5a5c" stroke-width="1.4" stroke-linecap="square"/>
<line x1="65.2" y1="515.3" x2="342.9" y2="515.3" stroke="#4a4e64" stroke-width="1.4" stroke-linecap="square"/>
<line x1="57.0" y1="380.5" x2="65.2" y2="380.5" stroke="#4e5a5c" stroke-width="1.4"/>
<text x="48.7" y="387.4" text-anchor="end" class="tk">-20</text>
<line x1="57.0" y1="417.3" x2="65.2" y2="417.3" stroke="#4e5a5c" stroke-width="1.4"/>
<text x="48.7" y="424.2" text-anchor="end" class="tk">-40</text>
<line x1="57.0" y1="454.0" x2="65.2" y2="454.0" stroke="#4e5a5c" stroke-width="1.4"/>
<text x="48.7" y="460.9" text-anchor="end" class="tk">-60</text>
<line x1="57.0" y1="490.8" x2="65.2" y2="490.8" stroke="#4e5a5c" stroke-width="1.4"/>
<text x="48.7" y="497.7" text-anchor="end" class="tk">-80</text>
<line x1="83.3" y1="515.3" x2="83.3" y2="523.5" stroke="#4e5a5c" stroke-width="1.4"/>
<line x1="121.4" y1="515.3" x2="121.4" y2="523.5" stroke="#4e5a5c" stroke-width="1.4"/>
<line x1="159.7" y1="515.3" x2="159.7" y2="523.5" stroke="#4e5a5c" stroke-width="1.4"/>
<line x1="198.4" y1="515.3" x2="198.4" y2="523.5" stroke="#4e5a5c" stroke-width="1.4"/>
<line x1="237.0" y1="515.3" x2="237.0" y2="523.5" stroke="#4e5a5c" stroke-width="1.4"/>
<line x1="275.6" y1="515.3" x2="275.6" y2="523.5" stroke="#4e5a5c" stroke-width="1.4"/>
<line x1="313.7" y1="515.3" x2="313.7" y2="523.5" stroke="#4e5a5c" stroke-width="1.4"/>
<path d="M415.0,417.8 C417.5,418.2 420.8,419.5 430.0,420.5 C439.2,421.5 457.5,422.9 470.0,424.0 C482.5,425.1 496.7,426.4 505.0,427.0 C513.3,427.6 504.2,426.8 520.0,427.8 C535.8,428.8 574.5,431.2 600.0,433.0 C625.5,434.8 660.8,437.4 673.0,438.3 L673.0,507.9 C660.8,506.8 625.5,503.3 600.0,501.0 C574.5,498.7 535.8,495.3 520.0,494.0 C504.2,492.7 513.3,494.2 505.0,493.4 C496.7,492.6 485.0,490.5 470.0,489.0 C455.0,487.5 424.2,485.1 415.0,484.3 Z" fill="#f2f0fd" stroke="none"/>
<path d="M415.0,413.3 C415.8,413.7 417.5,414.9 420.0,415.5 C422.5,416.1 421.7,416.2 430.0,417.0 C438.3,417.8 457.5,419.1 470.0,420.0 C482.5,420.9 496.7,421.9 505.0,422.5 C513.3,423.1 504.2,422.8 520.0,423.8 C535.8,424.8 574.5,426.9 600.0,428.5 C625.5,430.1 660.8,432.7 673.0,433.5" fill="none" stroke="#a3b5b5" stroke-width="1.1"/>
<path d="M415.0,453.2 C424.2,454.1 455.0,456.8 470.0,458.5 C485.0,460.2 496.7,462.1 505.0,463.2 C513.3,464.3 504.2,463.5 520.0,465.3 C535.8,467.1 574.5,471.2 600.0,474.0 C625.5,476.8 660.8,480.8 673.0,482.2" fill="none" stroke="#a3b5b5" stroke-width="1.1"/>
<path d="M415.0,463.8 C424.2,464.6 455.0,467.1 470.0,468.5 C485.0,469.9 496.7,471.5 505.0,472.4 C513.3,473.3 504.2,472.3 520.0,473.7 C535.8,475.1 574.5,478.3 600.0,480.5 C625.5,482.7 660.8,485.8 673.0,486.9" fill="none" stroke="#a3b5b5" stroke-width="1.1"/>
<path d="M415.0,476.4 C424.2,477.1 455.0,479.2 470.0,480.5 C485.0,481.8 496.7,483.4 505.0,484.3 C513.3,485.2 504.2,484.3 520.0,485.6 C535.8,486.9 574.5,489.9 600.0,492.0 C625.5,494.1 660.8,497.2 673.0,498.2" fill="none" stroke="#a3b5b5" stroke-width="1.1"/>
<path d="M415.0,451.4 C424.2,452.2 455.0,454.7 470.0,456.0 C485.0,457.3 496.7,458.5 505.0,459.3 C513.3,460.1 504.2,459.4 520.0,460.6 C535.8,461.8 574.5,464.4 600.0,466.5 C625.5,468.6 660.8,471.9 673.0,473.0" fill="none" stroke="#fbbd8f" stroke-width="1.8"/>
<path d="M415.0,417.8 C417.5,418.2 420.8,419.5 430.0,420.5 C439.2,421.5 457.5,422.9 470.0,424.0 C482.5,425.1 496.7,426.4 505.0,427.0 C513.3,427.6 504.2,426.8 520.0,427.8 C535.8,428.8 574.5,431.2 600.0,433.0 C625.5,434.8 660.8,437.4 673.0,438.3" fill="none" stroke="#f59c66" stroke-width="1.80" stroke-dasharray="3,3.2"/>
<path d="M415.0,484.3 C424.2,485.1 455.0,487.5 470.0,489.0 C485.0,490.5 496.7,492.6 505.0,493.4 C513.3,494.2 504.2,492.7 520.0,494.0 C535.8,495.3 574.5,498.7 600.0,501.0 C625.5,503.3 660.8,506.8 673.0,507.9" fill="none" stroke="#f59c66" stroke-width="1.80" stroke-dasharray="3,3.2"/>
<path d="M404.9,514.5 V360.2 H683.5 V514.5" fill="none" stroke="#4e5a5c" stroke-width="1.4" stroke-linecap="square"/>
<line x1="404.9" y1="514.5" x2="683.5" y2="514.5" stroke="#4a4e64" stroke-width="1.4" stroke-linecap="square"/>
<line x1="396.7" y1="380.0" x2="404.9" y2="380.0" stroke="#4e5a5c" stroke-width="1.4"/>
<text x="388.4" y="386.9" text-anchor="end" class="tk">-20</text>
<line x1="396.7" y1="416.7" x2="404.9" y2="416.7" stroke="#4e5a5c" stroke-width="1.4"/>
<text x="388.4" y="423.6" text-anchor="end" class="tk">-40</text>
<line x1="396.7" y1="453.3" x2="404.9" y2="453.3" stroke="#4e5a5c" stroke-width="1.4"/>
<text x="388.4" y="460.2" text-anchor="end" class="tk">-60</text>
<line x1="396.7" y1="490.0" x2="404.9" y2="490.0" stroke="#4e5a5c" stroke-width="1.4"/>
<text x="388.4" y="496.9" text-anchor="end" class="tk">-80</text>
<line x1="422.8" y1="514.5" x2="422.8" y2="522.7" stroke="#4e5a5c" stroke-width="1.4"/>
<line x1="461.4" y1="514.5" x2="461.4" y2="522.7" stroke="#4e5a5c" stroke-width="1.4"/>
<line x1="499.7" y1="514.5" x2="499.7" y2="522.7" stroke="#4e5a5c" stroke-width="1.4"/>
<line x1="538.4" y1="514.5" x2="538.4" y2="522.7" stroke="#4e5a5c" stroke-width="1.4"/>
<line x1="576.7" y1="514.5" x2="576.7" y2="522.7" stroke="#4e5a5c" stroke-width="1.4"/>
<line x1="615.4" y1="514.5" x2="615.4" y2="522.7" stroke="#4e5a5c" stroke-width="1.4"/>
<line x1="654.0" y1="514.5" x2="654.0" y2="522.7" stroke="#4e5a5c" stroke-width="1.4"/>
<path d="M72.8,664.4 C85.7,664.4 117.1,664.4 150.0,664.6 C182.9,664.8 247.1,665.0 270.0,665.4 C292.9,665.8 283.3,666.9 287.7,667.2 C292.1,667.5 294.7,668.0 296.6,667.2 C298.5,666.5 298.4,665.8 299.3,662.7 C300.2,659.6 301.0,654.5 301.9,648.6 C302.8,642.7 303.7,635.9 304.6,627.3 C305.5,618.7 306.4,607.2 307.3,597.1 C308.2,587.0 309.0,574.6 309.9,566.9 C310.8,559.2 311.8,554.0 312.6,551.0 C313.4,548.0 314.1,547.8 314.8,548.6 C315.5,549.4 316.2,552.1 317.0,556.0 C317.8,559.9 318.8,566.6 319.7,572.0 C320.6,577.4 321.9,585.5 322.3,588.2 L322.9,588.2 C322.7,587.0 322.2,582.9 321.5,581.1 C320.8,579.3 319.7,576.4 318.8,577.6 C317.9,578.8 317.0,583.5 316.1,588.2 C315.2,592.9 314.4,599.5 313.5,606.0 C312.6,612.5 311.8,619.9 310.8,627.3 C309.8,634.7 308.5,643.2 307.3,650.3 C306.1,657.4 304.9,664.5 303.7,669.8 C302.5,675.1 301.2,678.6 300.2,682.3 C299.2,686.0 299.6,690.1 297.5,692.0 C295.4,693.9 292.3,693.6 287.7,693.8 C283.1,693.9 292.9,693.2 270.0,692.9 C247.1,692.6 182.9,692.1 150.0,691.8 C117.1,691.5 85.7,691.4 72.8,691.3 Z" fill="#f2f0fd" stroke="none"/>
<line x1="258.0" y1="540.8" x2="258.0" y2="695.0" stroke="#fdeadf" stroke-width="1" stroke-dasharray="1.2,2"/>
<line x1="269.3" y1="540.8" x2="269.3" y2="695.0" stroke="#fdeadf" stroke-width="1" stroke-dasharray="1.2,2"/>
<line x1="263.5" y1="540.8" x2="263.5" y2="695.0" stroke="#fbd3b4" stroke-width="1.3"/>
<line x1="289.2" y1="540.8" x2="289.2" y2="695.0" stroke="#fdeadf" stroke-width="1" stroke-dasharray="1.2,2"/>
<line x1="295.7" y1="540.8" x2="295.7" y2="695.0" stroke="#fdeadf" stroke-width="1" stroke-dasharray="1.2,2"/>
<line x1="292.5" y1="540.8" x2="292.5" y2="695.0" stroke="#fbd3b4" stroke-width="1.3"/>
<line x1="314.0" y1="540.8" x2="314.0" y2="695.0" stroke="#fdeadf" stroke-width="1" stroke-dasharray="1.2,2"/>
<line x1="319.3" y1="540.8" x2="319.3" y2="695.0" stroke="#fdeadf" stroke-width="1" stroke-dasharray="1.2,2"/>
<line x1="316.5" y1="540.8" x2="316.5" y2="695.0" stroke="#fbd3b4" stroke-width="1.3"/>
<path d="M72.8,674.2 C85.7,674.3 117.1,674.7 150.0,675.0 C182.9,675.3 246.2,675.5 270.0,676.0 C293.9,676.5 288.4,678.2 293.1,677.8 C297.8,677.4 296.9,678.0 298.4,673.4 C299.9,668.8 300.7,660.1 301.9,650.3 C303.1,640.5 304.5,626.6 305.5,614.8 C306.5,603.0 307.2,589.8 308.1,579.4 C309.0,569.0 309.9,558.8 310.8,552.7 C311.7,546.6 312.7,544.2 313.5,543.0 C314.3,541.8 315.0,543.1 315.8,545.6 C316.6,548.1 317.4,553.1 318.3,558.1 C319.2,563.1 320.7,572.0 321.5,575.8 C322.3,579.6 322.9,580.2 323.2,581.1" fill="none" stroke="#a3b5b5" stroke-width="1.1"/>
<path d="M72.8,675.5 C85.7,675.6 117.1,675.8 150.0,676.0 C182.9,676.2 246.2,676.3 270.0,676.9 C293.9,677.5 288.4,679.9 293.1,679.6 C297.8,679.3 296.6,680.1 298.4,675.2 C300.2,670.3 302.1,660.4 303.7,650.3 C305.3,640.2 306.8,626.0 308.1,614.8 C309.4,603.6 310.5,589.8 311.7,582.9 C312.9,576.0 314.2,574.6 315.2,573.1 C316.2,571.6 316.8,573.0 317.9,574.0 C318.9,575.0 320.6,575.0 321.5,579.4 C322.4,583.8 322.9,597.1 323.2,600.6" fill="none" stroke="#a3b5b5" stroke-width="1.1"/>
<path d="M72.8,677.0 C85.7,677.1 117.1,677.2 150.0,677.5 C182.9,677.8 245.9,678.1 270.0,678.7 C294.1,679.4 289.8,681.7 294.8,681.4 C299.8,681.1 298.4,682.2 300.2,677.0 C302.0,671.8 303.9,660.7 305.5,650.3 C307.1,639.9 308.6,625.7 309.9,614.8 C311.2,603.9 312.4,591.8 313.5,584.7 C314.6,577.6 315.5,574.7 316.5,572.3 C317.5,569.9 318.7,569.3 319.7,570.5 C320.7,571.7 321.7,576.4 322.3,579.4 C322.9,582.4 323.1,586.7 323.2,588.2" fill="none" stroke="#a3b5b5" stroke-width="1.1"/>
<path d="M72.8,679.5 C85.7,679.5 117.1,679.5 150.0,679.5 C182.9,679.5 245.6,678.6 270.0,679.6 C294.4,680.6 291.4,685.1 296.6,685.8 C301.8,686.5 299.5,686.7 301.0,684.0 C302.5,681.3 304.2,676.9 305.5,669.8 C306.8,662.7 307.8,652.1 309.0,641.5 C310.2,630.9 311.5,616.1 312.6,606.0 C313.7,595.9 314.8,586.7 315.8,581.1 C316.8,575.5 317.9,574.1 318.8,572.3 C319.8,570.5 320.8,569.9 321.5,570.5 C322.2,571.1 322.9,574.9 323.2,575.8" fill="none" stroke="#a3b5b5" stroke-width="1.1"/>
<path d="M72.8,678.0 C85.7,678.0 117.1,678.0 150.0,678.3 C182.9,678.6 245.9,678.9 270.0,679.6 C294.1,680.3 289.9,682.4 294.8,682.3 C299.7,682.1 297.8,682.6 299.3,678.7 C300.8,674.9 302.2,668.4 303.7,659.2 C305.2,650.0 306.7,634.6 308.1,623.7 C309.5,612.8 310.9,601.6 312.2,593.6 C313.5,585.6 315.0,579.2 316.1,575.8 C317.2,572.4 317.9,573.1 318.8,573.1 C319.7,573.1 320.8,574.5 321.5,575.8 C322.2,577.1 322.7,580.2 322.9,581.1" fill="none" stroke="#fbbd8f" stroke-width="1.8"/>
<path d="M72.8,664.4 C85.7,664.4 117.1,664.4 150.0,664.6 C182.9,664.8 247.1,665.0 270.0,665.4 C292.9,665.8 283.3,666.9 287.7,667.2 C292.1,667.5 294.7,668.0 296.6,667.2 C298.5,666.5 298.4,665.8 299.3,662.7 C300.2,659.6 301.0,654.5 301.9,648.6 C302.8,642.7 303.7,635.9 304.6,627.3 C305.5,618.7 306.4,607.2 307.3,597.1 C308.2,587.0 309.0,574.6 309.9,566.9 C310.8,559.2 311.8,554.0 312.6,551.0 C313.4,548.0 314.1,547.8 314.8,548.6 C315.5,549.4 316.2,552.1 317.0,556.0 C317.8,559.9 318.8,566.6 319.7,572.0 C320.6,577.4 321.9,585.5 322.3,588.2" fill="none" stroke="#f59c66" stroke-width="1.80" stroke-dasharray="3,3.2"/>
<path d="M72.8,691.3 C85.7,691.4 117.1,691.5 150.0,691.8 C182.9,692.1 247.1,692.6 270.0,692.9 C292.9,693.2 283.1,693.9 287.7,693.8 C292.3,693.6 295.4,693.9 297.5,692.0 C299.6,690.1 299.2,686.0 300.2,682.3 C301.2,678.6 302.5,675.1 303.7,669.8 C304.9,664.5 306.1,657.4 307.3,650.3 C308.5,643.2 309.8,634.7 310.8,627.3 C311.8,619.9 312.6,612.5 313.5,606.0 C314.4,599.5 315.2,592.9 316.1,588.2 C317.0,583.5 317.9,578.8 318.8,577.6 C319.7,576.4 320.8,579.3 321.5,581.1 C322.2,582.9 322.7,587.0 322.9,588.2" fill="none" stroke="#f59c66" stroke-width="1.80" stroke-dasharray="3,3.2"/>
<path d="M62.8,695.0 V540.8 H332.6 V695.0" fill="none" stroke="#4e5a5c" stroke-width="1.4" stroke-linecap="square"/>
<line x1="62.8" y1="695.0" x2="332.6" y2="695.0" stroke="#4a4e64" stroke-width="1.4" stroke-linecap="square"/>
<line x1="54.6" y1="574.9" x2="62.8" y2="574.9" stroke="#4e5a5c" stroke-width="1.4"/>
<text x="46.3" y="581.8" text-anchor="end" class="tk">50</text>
<line x1="54.6" y1="622.7" x2="62.8" y2="622.7" stroke="#4e5a5c" stroke-width="1.4"/>
<text x="46.3" y="629.6" text-anchor="end" class="tk">0</text>
<line x1="54.6" y1="670.3" x2="62.8" y2="670.3" stroke="#4e5a5c" stroke-width="1.4"/>
<text x="46.3" y="677.2" text-anchor="end" class="tk">-50</text>
<line x1="87.2" y1="695.0" x2="87.2" y2="703.2" stroke="#4e5a5c" stroke-width="1.4"/>
<line x1="123.4" y1="695.0" x2="123.4" y2="703.2" stroke="#4e5a5c" stroke-width="1.4"/>
<line x1="159.5" y1="695.0" x2="159.5" y2="703.2" stroke="#4e5a5c" stroke-width="1.4"/>
<line x1="195.7" y1="695.0" x2="195.7" y2="703.2" stroke="#4e5a5c" stroke-width="1.4"/>
<line x1="232.3" y1="695.0" x2="232.3" y2="703.2" stroke="#4e5a5c" stroke-width="1.4"/>
<line x1="268.5" y1="695.0" x2="268.5" y2="703.2" stroke="#4e5a5c" stroke-width="1.4"/>
<line x1="304.8" y1="695.0" x2="304.8" y2="703.2" stroke="#4e5a5c" stroke-width="1.4"/>
<path d="M415.3,576.0 C416.2,576.6 418.8,578.4 420.5,579.9 C422.2,581.4 424.1,583.0 425.8,584.7 C427.6,586.4 429.2,588.6 431.0,590.0 C432.8,591.4 434.6,592.1 436.3,593.0 C438.1,593.9 439.8,594.8 441.5,595.6 C443.2,596.4 444.8,597.1 446.8,597.8 C448.9,598.5 451.2,599.0 453.8,599.6 C456.4,600.2 459.8,600.7 462.5,601.1 C465.2,601.5 467.1,601.7 470.0,602.2 C472.9,602.7 476.2,603.3 480.0,604.0 C483.8,604.7 485.1,605.4 492.6,606.2 C500.1,607.0 507.1,607.9 525.0,608.8 C542.9,609.7 575.3,610.7 600.0,611.5 C624.7,612.3 660.8,613.2 673.0,613.5 L673.0,644.0 C660.8,642.8 624.7,639.4 600.0,637.0 C575.3,634.6 541.4,631.2 525.0,629.5 C508.6,627.8 508.3,627.5 501.4,626.7 C494.5,625.9 489.6,625.4 483.8,624.6 C478.0,623.8 472.1,622.8 466.3,621.9 C460.5,621.0 454.6,620.2 448.8,619.3 C443.0,618.3 436.9,617.4 431.3,616.2 C425.8,615.0 418.1,612.9 415.5,612.3 Z" fill="#f2f0fd" stroke="none"/>
<path d="M415.3,573.3 C416.2,574.0 418.8,575.8 420.5,577.3 C422.2,578.8 424.1,580.8 425.8,582.5 C427.6,584.2 429.2,586.2 431.0,587.8 C432.8,589.4 434.6,590.9 436.3,592.1 C438.1,593.3 439.8,594.3 441.5,595.2 C443.2,596.1 444.8,596.7 446.8,597.4 C448.9,598.1 451.2,598.7 453.8,599.2 C456.4,599.7 459.8,600.1 462.5,600.5 C465.2,600.9 467.1,600.8 470.0,601.3 C472.9,601.8 476.2,602.6 480.0,603.2 C483.8,603.8 487.6,604.4 492.6,605.0 C497.6,605.6 504.7,606.2 510.1,606.7 C515.5,607.2 510.0,607.4 525.0,607.9 C540.0,608.4 575.3,609.2 600.0,609.8 C624.7,610.3 660.8,611.0 673.0,611.2" fill="none" stroke="#a3b5b5" stroke-width="1.1"/>
<path d="M415.3,603.5 C416.6,604.1 419.6,605.9 423.1,607.0 C426.6,608.1 430.6,609.1 436.3,610.3 C442.1,611.5 451.1,613.0 457.6,614.1 C464.1,615.2 469.3,616.3 475.1,617.2 C480.9,618.1 484.3,618.8 492.6,619.7 C500.9,620.6 507.1,621.1 525.0,622.8 C542.9,624.5 575.3,627.7 600.0,630.0 C624.7,632.3 660.8,635.6 673.0,636.7" fill="none" stroke="#a3b5b5" stroke-width="1.1"/>
<path d="M415.5,605.0 C416.7,605.5 418.4,606.7 422.5,607.9 C426.6,609.1 434.1,611.0 440.0,612.3 C445.9,613.6 451.8,614.7 457.6,615.8 C463.5,616.9 469.3,618.1 475.1,619.0 C480.9,619.9 484.3,620.3 492.6,621.4 C500.9,622.5 507.1,623.6 525.0,625.4 C542.9,627.2 575.3,629.8 600.0,632.0 C624.7,634.2 660.8,637.4 673.0,638.5" fill="none" stroke="#a3b5b5" stroke-width="1.1"/>
<path d="M438.3,605.3 C441.5,606.0 451.5,608.4 457.6,609.7 C463.7,611.0 469.3,612.2 475.1,613.2 C480.9,614.2 484.3,614.9 492.6,615.8 C500.9,616.7 507.1,617.1 525.0,618.4 C542.9,619.7 575.3,621.8 600.0,623.5 C624.7,625.2 660.8,627.9 673.0,628.8" fill="none" stroke="#fbbd8f" stroke-width="1.8"/>
<path d="M415.3,576.0 C416.2,576.6 418.8,578.4 420.5,579.9 C422.2,581.4 424.1,583.0 425.8,584.7 C427.6,586.4 429.2,588.6 431.0,590.0 C432.8,591.4 434.6,592.1 436.3,593.0 C438.1,593.9 439.8,594.8 441.5,595.6 C443.2,596.4 444.8,597.1 446.8,597.8 C448.9,598.5 451.2,599.0 453.8,599.6 C456.4,600.2 459.8,600.7 462.5,601.1 C465.2,601.5 467.1,601.7 470.0,602.2 C472.9,602.7 476.2,603.3 480.0,604.0 C483.8,604.7 485.1,605.4 492.6,606.2 C500.1,607.0 507.1,607.9 525.0,608.8 C542.9,609.7 575.3,610.7 600.0,611.5 C624.7,612.3 660.8,613.2 673.0,613.5" fill="none" stroke="#f6a272" stroke-width="1.40" stroke-dasharray="3,3.2"/>
<path d="M415.5,612.3 C418.1,612.9 425.8,615.0 431.3,616.2 C436.9,617.4 443.0,618.3 448.8,619.3 C454.6,620.2 460.5,621.0 466.3,621.9 C472.1,622.8 478.0,623.8 483.8,624.6 C489.6,625.4 494.5,625.9 501.4,626.7 C508.3,627.5 508.6,627.8 525.0,629.5 C541.4,631.2 575.3,634.6 600.0,637.0 C624.7,639.4 660.8,642.8 673.0,644.0" fill="none" stroke="#f6a272" stroke-width="1.40" stroke-dasharray="3,3.2"/>
<path d="M405.2,693.2 V539.5 H683.5 V693.2" fill="none" stroke="#4e5a5c" stroke-width="1.4" stroke-linecap="square"/>
<line x1="405.2" y1="693.2" x2="683.5" y2="693.2" stroke="#4a4e64" stroke-width="1.4" stroke-linecap="square"/>
<line x1="397.0" y1="544.7" x2="405.2" y2="544.7" stroke="#4e5a5c" stroke-width="1.4"/>
<text x="388.7" y="551.6" text-anchor="end" class="tk">-50</text>
<line x1="397.0" y1="580.6" x2="405.2" y2="580.6" stroke="#4e5a5c" stroke-width="1.4"/>
<text x="388.7" y="587.5" text-anchor="end" class="tk">-55</text>
<line x1="397.0" y1="616.6" x2="405.2" y2="616.6" stroke="#4e5a5c" stroke-width="1.4"/>
<text x="388.7" y="623.5" text-anchor="end" class="tk">-60</text>
<line x1="397.0" y1="652.5" x2="405.2" y2="652.5" stroke="#4e5a5c" stroke-width="1.4"/>
<text x="388.7" y="659.4" text-anchor="end" class="tk">-65</text>
<line x1="397.0" y1="688.4" x2="405.2" y2="688.4" stroke="#4e5a5c" stroke-width="1.4"/>
<text x="388.7" y="695.3" text-anchor="end" class="tk">-70</text>
<line x1="430.6" y1="693.2" x2="430.6" y2="701.4" stroke="#4e5a5c" stroke-width="1.4"/>
<line x1="468.0" y1="693.2" x2="468.0" y2="701.4" stroke="#4e5a5c" stroke-width="1.4"/>
<line x1="505.5" y1="693.2" x2="505.5" y2="701.4" stroke="#4e5a5c" stroke-width="1.4"/>
<line x1="542.6" y1="693.2" x2="542.6" y2="701.4" stroke="#4e5a5c" stroke-width="1.4"/>
<line x1="580.4" y1="693.2" x2="580.4" y2="701.4" stroke="#4e5a5c" stroke-width="1.4"/>
<line x1="617.5" y1="693.2" x2="617.5" y2="701.4" stroke="#4e5a5c" stroke-width="1.4"/>
<line x1="655.3" y1="693.2" x2="655.3" y2="701.4" stroke="#4e5a5c" stroke-width="1.4"/>
<path d="M76.2,829.0 C83.5,829.2 104.4,830.0 120.0,830.5 C135.6,831.0 146.7,831.5 170.0,831.9 C193.3,832.3 242.1,832.3 260.0,832.9 C277.9,833.5 272.0,834.6 277.2,835.4 C282.4,836.2 287.3,837.8 291.0,837.5 C294.7,837.2 297.3,835.8 299.6,833.7 C301.9,831.6 303.0,828.8 304.7,825.1 C306.4,821.4 308.2,817.7 309.9,811.4 C311.6,805.1 313.5,795.9 315.1,787.3 C316.7,778.7 318.0,766.2 319.4,759.7 C320.8,753.2 322.3,749.3 323.7,748.6 C325.1,747.9 326.9,752.1 328.0,755.4 C329.1,758.7 329.6,764.0 330.5,768.3 C331.4,772.6 333.1,779.1 333.6,781.2 L333.6,846.6 C332.5,846.2 329.0,844.1 327.1,844.0 C325.2,843.9 323.7,845.1 322.0,845.8 C320.3,846.5 319.1,846.3 316.8,848.3 C314.5,850.3 311.1,855.6 308.2,857.8 C305.3,859.9 302.5,860.5 299.6,861.2 C296.7,861.9 294.7,862.2 291.0,862.1 C287.3,862.0 282.4,861.0 277.2,860.4 C272.0,859.8 277.9,859.1 260.0,858.7 C242.1,858.3 193.3,858.3 170.0,857.9 C146.7,857.5 135.6,857.0 120.0,856.5 C104.4,856.0 83.5,855.1 76.2,854.8 Z" fill="#f2f0fd" stroke="none"/>
<line x1="264.6" y1="720.9" x2="264.6" y2="874.6" stroke="#fdeadf" stroke-width="1" stroke-dasharray="1.2,2"/>
<line x1="276.3" y1="720.9" x2="276.3" y2="874.6" stroke="#fdeadf" stroke-width="1" stroke-dasharray="1.2,2"/>
<line x1="270.3" y1="720.9" x2="270.3" y2="874.6" stroke="#fbd3b4" stroke-width="1.3"/>
<line x1="287.9" y1="720.9" x2="287.9" y2="874.6" stroke="#fdeadf" stroke-width="1" stroke-dasharray="1.2,2"/>
<line x1="295.3" y1="720.9" x2="295.3" y2="874.6" stroke="#fdeadf" stroke-width="1" stroke-dasharray="1.2,2"/>
<line x1="291.3" y1="720.9" x2="291.3" y2="874.6" stroke="#fbd3b4" stroke-width="1.3"/>
<line x1="318.5" y1="720.9" x2="318.5" y2="874.6" stroke="#fdeadf" stroke-width="1" stroke-dasharray="1.2,2"/>
<line x1="324.8" y1="720.9" x2="324.8" y2="874.6" stroke="#fdeadf" stroke-width="1" stroke-dasharray="1.2,2"/>
<line x1="321.6" y1="720.9" x2="321.6" y2="874.6" stroke="#fbd3b4" stroke-width="1.3"/>
<path d="M76.2,833.2 C83.5,833.3 104.4,833.8 120.0,834.0 C135.6,834.2 146.7,834.3 170.0,834.5 C193.3,834.7 242.1,834.9 260.0,835.4 C277.9,835.9 272.0,836.9 277.2,837.5 C282.4,838.1 287.0,839.5 291.0,838.9 C295.0,838.3 298.4,836.6 301.3,833.7 C304.2,830.8 306.2,827.7 308.2,821.7 C310.2,815.7 311.7,808.2 313.3,797.6 C314.9,787.0 316.5,768.1 317.6,758.0 C318.7,747.9 319.1,742.1 319.8,737.0 C320.5,731.9 321.0,729.5 321.6,727.5 C322.2,725.5 322.7,724.7 323.3,724.8 C323.9,724.9 324.6,725.9 325.2,728.0 C325.8,730.1 326.2,733.0 327.1,737.4 C328.0,741.8 329.4,749.0 330.5,754.6 C331.6,760.2 333.4,768.2 334.0,770.9" fill="none" stroke="#a3b5b5" stroke-width="1.1"/>
<path d="M76.2,834.5 C91.8,834.6 139.4,835.0 170.0,835.3 C200.6,835.6 239.8,835.6 260.0,836.3 C280.2,837.0 284.1,839.9 291.0,839.7 C297.9,839.6 297.9,838.7 301.3,835.4 C304.7,832.1 308.5,825.1 311.6,820.0 C314.8,814.9 317.9,806.5 320.2,804.5 C322.5,802.5 323.7,806.2 325.4,807.9 C327.1,809.6 329.1,812.8 330.5,814.8 C331.9,816.8 333.4,819.1 334.0,820.0" fill="none" stroke="#a3b5b5" stroke-width="1.1"/>
<path d="M76.2,850.8 C83.5,851.2 104.4,852.7 120.0,853.5 C135.6,854.3 146.7,855.1 170.0,855.5 C193.3,855.9 242.1,855.9 260.0,856.1 C277.9,856.4 272.0,856.8 277.2,857.0 C282.4,857.2 286.7,858.2 291.0,857.5 C295.3,856.8 299.6,855.3 303.0,852.6 C306.4,849.9 309.0,845.5 311.6,841.5 C314.2,837.5 316.8,831.9 318.5,828.6 C320.2,825.3 320.5,822.0 321.9,821.7 C323.3,821.4 325.1,824.4 327.1,826.8 C329.1,829.2 332.9,834.7 334.0,836.3" fill="none" stroke="#a3b5b5" stroke-width="1.1"/>
<path d="M76.2,853.4 C91.8,853.9 139.4,855.8 170.0,856.5 C200.6,857.2 239.8,857.0 260.0,857.8 C280.2,858.6 284.4,860.3 291.0,861.2 C297.6,862.1 296.7,863.3 299.6,863.0 C302.5,862.7 305.3,862.4 308.2,859.5 C311.1,856.6 314.2,849.8 316.8,845.8 C319.4,841.8 321.8,837.8 323.7,835.4 C325.6,833.0 326.3,831.6 328.0,831.7 C329.7,831.9 333.0,835.5 334.0,836.3" fill="none" stroke="#a3b5b5" stroke-width="1.1"/>
<path d="M76.2,841.6 C83.5,841.8 104.4,842.5 120.0,843.0 C135.6,843.5 146.7,843.8 170.0,844.3 C193.3,844.8 242.1,845.3 260.0,845.8 C277.9,846.3 272.0,847.0 277.2,847.5 C282.4,848.0 287.0,849.3 291.0,848.9 C295.0,848.5 297.9,848.6 301.3,844.9 C304.7,841.2 308.7,833.2 311.6,826.8 C314.5,820.3 316.6,811.2 318.5,806.2 C320.4,801.2 321.6,797.0 323.3,796.7 C325.0,796.4 327.0,801.2 328.8,804.5 C330.6,807.8 333.1,814.5 334.0,816.5" fill="none" stroke="#fbbd8f" stroke-width="1.8"/>
<path d="M76.2,829.0 C83.5,829.2 104.4,830.0 120.0,830.5 C135.6,831.0 146.7,831.5 170.0,831.9 C193.3,832.3 242.1,832.3 260.0,832.9 C277.9,833.5 272.0,834.6 277.2,835.4 C282.4,836.2 287.3,837.8 291.0,837.5 C294.7,837.2 297.3,835.8 299.6,833.7 C301.9,831.6 303.0,828.8 304.7,825.1 C306.4,821.4 308.2,817.7 309.9,811.4 C311.6,805.1 313.5,795.9 315.1,787.3 C316.7,778.7 318.0,766.2 319.4,759.7 C320.8,753.2 322.3,749.3 323.7,748.6 C325.1,747.9 326.9,752.1 328.0,755.4 C329.1,758.7 329.6,764.0 330.5,768.3 C331.4,772.6 333.1,779.1 333.6,781.2" fill="none" stroke="#f59c66" stroke-width="1.50" stroke-dasharray="3,3.2"/>
<path d="M76.2,854.8 C83.5,855.1 104.4,856.0 120.0,856.5 C135.6,857.0 146.7,857.5 170.0,857.9 C193.3,858.3 242.1,858.3 260.0,858.7 C277.9,859.1 272.0,859.8 277.2,860.4 C282.4,861.0 287.3,862.0 291.0,862.1 C294.7,862.2 296.7,861.9 299.6,861.2 C302.5,860.5 305.3,859.9 308.2,857.8 C311.1,855.6 314.5,850.3 316.8,848.3 C319.1,846.3 320.3,846.5 322.0,845.8 C323.7,845.1 325.2,843.9 327.1,844.0 C329.0,844.1 332.5,846.2 333.6,846.6" fill="none" stroke="#f59c66" stroke-width="1.50" stroke-dasharray="3,3.2"/>
<path d="M65.7,874.6 V720.9 H343.0 V874.6" fill="none" stroke="#4e5a5c" stroke-width="1.4" stroke-linecap="square"/>
<line x1="65.7" y1="874.6" x2="343.0" y2="874.6" stroke="#4a4e64" stroke-width="1.4" stroke-linecap="square"/>
<line x1="57.5" y1="733.9" x2="65.7" y2="733.9" stroke="#4e5a5c" stroke-width="1.4"/>
<text x="49.2" y="740.8" text-anchor="end" class="tk">20</text>
<line x1="57.5" y1="764.0" x2="65.7" y2="764.0" stroke="#4e5a5c" stroke-width="1.4"/>
<text x="49.2" y="770.9" text-anchor="end" class="tk">0</text>
<line x1="57.5" y1="794.1" x2="65.7" y2="794.1" stroke="#4e5a5c" stroke-width="1.4"/>
<text x="49.2" y="801.0" text-anchor="end" class="tk">-20</text>
<line x1="57.5" y1="824.1" x2="65.7" y2="824.1" stroke="#4e5a5c" stroke-width="1.4"/>
<text x="49.2" y="831.0" text-anchor="end" class="tk">-40</text>
<line x1="57.5" y1="854.2" x2="65.7" y2="854.2" stroke="#4e5a5c" stroke-width="1.4"/>
<text x="49.2" y="861.1" text-anchor="end" class="tk">-60</text>
<line x1="90.9" y1="874.6" x2="90.9" y2="882.8" stroke="#4e5a5c" stroke-width="1.4"/>
<line x1="128.4" y1="874.6" x2="128.4" y2="882.8" stroke="#4e5a5c" stroke-width="1.4"/>
<line x1="165.6" y1="874.6" x2="165.6" y2="882.8" stroke="#4e5a5c" stroke-width="1.4"/>
<line x1="203.4" y1="874.6" x2="203.4" y2="882.8" stroke="#4e5a5c" stroke-width="1.4"/>
<line x1="240.4" y1="874.6" x2="240.4" y2="882.8" stroke="#4e5a5c" stroke-width="1.4"/>
<line x1="277.7" y1="874.6" x2="277.7" y2="882.8" stroke="#4e5a5c" stroke-width="1.4"/>
<line x1="315.3" y1="874.6" x2="315.3" y2="882.8" stroke="#4e5a5c" stroke-width="1.4"/>
<path d="M415.2,830.3 C418.6,830.4 430.2,831.1 435.7,830.9 C441.1,830.7 443.8,828.9 447.9,829.3 C452.0,829.6 455.4,832.2 460.2,833.0 C465.0,833.8 471.4,834.0 476.5,834.0 C481.6,834.0 487.2,833.3 490.8,833.0 C494.4,832.7 495.3,832.1 498.0,832.4 C500.7,832.7 503.6,834.2 507.2,834.8 C510.8,835.4 513.1,835.6 519.4,836.0 C525.7,836.4 529.9,836.5 545.0,837.1 C560.1,837.7 588.7,838.8 610.0,839.5 C631.3,840.2 662.5,841.2 673.0,841.6 L673.0,868.4 C662.5,868.0 631.3,867.0 610.0,866.2 C588.7,865.4 561.1,864.5 545.0,863.6 C528.9,862.7 520.6,861.9 513.3,861.0 C506.0,860.1 504.6,859.1 501.0,858.3 C497.4,857.5 496.7,856.3 491.9,856.3 C487.1,856.3 480.1,857.9 472.4,858.3 C464.7,858.7 455.4,858.7 445.9,858.5 C436.4,858.3 420.3,857.2 415.2,856.9 Z" fill="#f2f0fd" stroke="none"/>
<path d="M415.2,831.0 C418.6,831.0 430.2,831.6 435.7,831.3 C441.1,830.9 444.2,828.7 447.9,828.9 C451.6,829.1 453.3,831.5 458.1,832.4 C462.9,833.3 470.4,834.2 476.5,834.2 C482.6,834.2 490.5,832.4 494.9,832.4 C499.3,832.4 500.0,833.5 503.1,834.4 C506.2,835.2 506.3,836.7 513.3,837.5 C520.3,838.3 528.9,838.4 545.0,839.1 C561.1,839.8 588.7,840.7 610.0,841.5 C631.3,842.3 662.5,843.3 673.0,843.7" fill="none" stroke="#a3b5b5" stroke-width="1.1"/>
<path d="M415.2,834.4 C420.3,834.6 434.6,835.2 445.9,835.4 C457.1,835.6 475.2,835.9 482.7,835.8 C490.2,835.7 487.8,834.9 490.8,834.8 C493.9,834.7 497.2,834.9 501.0,835.4 C504.8,835.9 506.0,837.2 513.3,837.9 C520.6,838.6 528.9,838.9 545.0,839.5 C561.1,840.1 588.7,841.1 610.0,841.8 C631.3,842.5 662.5,843.5 673.0,843.9" fill="none" stroke="#a3b5b5" stroke-width="1.1"/>
<path d="M415.2,853.4 C420.3,853.7 436.4,854.9 445.9,855.1 C455.4,855.4 466.3,855.5 472.4,854.9 C478.5,854.3 479.6,851.7 482.7,851.8 C485.8,851.9 486.7,854.5 490.8,855.5 C494.9,856.5 498.2,857.1 507.2,857.9 C516.2,858.7 527.9,859.6 545.0,860.4 C562.1,861.2 588.7,861.9 610.0,862.6 C631.3,863.3 662.5,864.2 673.0,864.5" fill="none" stroke="#a3b5b5" stroke-width="1.1"/>
<path d="M415.2,854.9 C423.7,855.1 453.7,855.7 466.3,855.9 C478.9,856.1 484.0,855.4 490.8,855.9 C497.6,856.4 498.2,857.9 507.2,858.9 C516.2,859.9 527.9,860.8 545.0,861.6 C562.1,862.4 588.7,862.9 610.0,863.5 C631.3,864.1 662.5,864.8 673.0,865.0" fill="none" stroke="#a3b5b5" stroke-width="1.1"/>
<path d="M415.2,844.0 C420.3,844.1 437.4,844.2 445.9,844.6 C454.4,845.0 458.1,846.1 466.3,846.1 C474.5,846.1 488.1,844.4 494.9,844.6 C501.7,844.8 501.8,846.5 507.2,847.3 C512.6,848.1 521.3,848.8 527.6,849.3 C533.9,849.8 531.3,849.6 545.0,850.2 C558.7,850.8 588.7,852.1 610.0,853.0 C631.3,853.9 662.5,854.9 673.0,855.3" fill="none" stroke="#fbbd8f" stroke-width="1.8"/>
<path d="M415.2,830.3 C418.6,830.4 430.2,831.1 435.7,830.9 C441.1,830.7 443.8,828.9 447.9,829.3 C452.0,829.6 455.4,832.2 460.2,833.0 C465.0,833.8 471.4,834.0 476.5,834.0 C481.6,834.0 487.2,833.3 490.8,833.0 C494.4,832.7 495.3,832.1 498.0,832.4 C500.7,832.7 503.6,834.2 507.2,834.8 C510.8,835.4 513.1,835.6 519.4,836.0 C525.7,836.4 529.9,836.5 545.0,837.1 C560.1,837.7 588.7,838.8 610.0,839.5 C631.3,840.2 662.5,841.2 673.0,841.6" fill="none" stroke="#f59c66" stroke-width="1.80" stroke-dasharray="3,3.2"/>
<path d="M415.2,856.9 C420.3,857.2 436.4,858.3 445.9,858.5 C455.4,858.7 464.7,858.7 472.4,858.3 C480.1,857.9 487.1,856.3 491.9,856.3 C496.7,856.3 497.4,857.5 501.0,858.3 C504.6,859.1 506.0,860.1 513.3,861.0 C520.6,861.9 528.9,862.7 545.0,863.6 C561.1,864.5 588.7,865.4 610.0,866.2 C631.3,867.0 662.5,868.0 673.0,868.4" fill="none" stroke="#f59c66" stroke-width="1.80" stroke-dasharray="3,3.2"/>
<path d="M405.2,874.0 V720.2 H683.5 V874.0" fill="none" stroke="#4e5a5c" stroke-width="1.4" stroke-linecap="square"/>
<line x1="405.2" y1="874.0" x2="683.5" y2="874.0" stroke="#4a4e64" stroke-width="1.4" stroke-linecap="square"/>
<line x1="397.0" y1="732.6" x2="405.2" y2="732.6" stroke="#4e5a5c" stroke-width="1.4"/>
<text x="388.7" y="739.5" text-anchor="end" class="tk">20</text>
<line x1="397.0" y1="762.8" x2="405.2" y2="762.8" stroke="#4e5a5c" stroke-width="1.4"/>
<text x="388.7" y="769.7" text-anchor="end" class="tk">0</text>
<line x1="397.0" y1="793.0" x2="405.2" y2="793.0" stroke="#4e5a5c" stroke-width="1.4"/>
<text x="388.7" y="799.9" text-anchor="end" class="tk">-20</text>
<line x1="397.0" y1="823.2" x2="405.2" y2="823.2" stroke="#4e5a5c" stroke-width="1.4"/>
<text x="388.7" y="830.1" text-anchor="end" class="tk">-40</text>
<line x1="397.0" y1="853.4" x2="405.2" y2="853.4" stroke="#4e5a5c" stroke-width="1.4"/>
<text x="388.7" y="860.3" text-anchor="end" class="tk">-60</text>
<line x1="430.1" y1="874.0" x2="430.1" y2="882.2" stroke="#4e5a5c" stroke-width="1.4"/>
<line x1="468.0" y1="874.0" x2="468.0" y2="882.2" stroke="#4e5a5c" stroke-width="1.4"/>
<line x1="505.0" y1="874.0" x2="505.0" y2="882.2" stroke="#4e5a5c" stroke-width="1.4"/>
<line x1="542.6" y1="874.0" x2="542.6" y2="882.2" stroke="#4e5a5c" stroke-width="1.4"/>
<line x1="579.9" y1="874.0" x2="579.9" y2="882.2" stroke="#4e5a5c" stroke-width="1.4"/>
<line x1="617.5" y1="874.0" x2="617.5" y2="882.2" stroke="#4e5a5c" stroke-width="1.4"/>
<line x1="654.8" y1="874.0" x2="654.8" y2="882.2" stroke="#4e5a5c" stroke-width="1.4"/>
<text transform="translate(16.3,152.6) rotate(-90)" class="yl" style="font-size:19.4px" textLength="147.4" lengthAdjust="spacingAndGlyphs">Heat flow [mW/g]</text>
<text transform="translate(14.2,321.7) rotate(-90)" class="yl" style="font-size:16.9px" textLength="128.3" lengthAdjust="spacingAndGlyphs">Heat flow [mW/g]</text>
<text transform="translate(14.2,501.7) rotate(-90)" class="yl" style="font-size:16.9px" textLength="128.8" lengthAdjust="spacingAndGlyphs">Heat flow [mW/g]</text>
<text transform="translate(14.2,686.9) rotate(-90)" class="yl" style="font-size:16.9px" textLength="138.3" lengthAdjust="spacingAndGlyphs">Heat flow [mW]/[g]</text>
<text transform="translate(14.2,861.7) rotate(-90)" class="yl" style="font-size:16.9px" textLength="127.9" lengthAdjust="spacingAndGlyphs">Heat flow [mW/g]</text>
<text x="81.7" y="24.1" class="sp" textLength="73.0" lengthAdjust="spacingAndGlyphs">R. glacialis</text>
<text x="78.8" y="202.9" class="sp" textLength="92.5" lengthAdjust="spacingAndGlyphs">D. octopetala</text>
<text x="77.9" y="385.0" class="sp" textLength="61.8" lengthAdjust="spacingAndGlyphs">A. alpina</text>
<text x="144.5" y="385.0" class="sr" textLength="27.1" lengthAdjust="spacingAndGlyphs">agg.</text>
<text x="77.0" y="562.9" class="sp" textLength="80.0" lengthAdjust="spacingAndGlyphs">V. vitis-idea</text>
<text x="81.4" y="744.3" class="sp" textLength="102.8" lengthAdjust="spacingAndGlyphs">R. ferrugineum</text>
<text x="417.9" y="23.8" class="sp" textLength="73.0" lengthAdjust="spacingAndGlyphs">R. glacialis</text>
<text x="417.9" y="43.9" class="sr" textLength="61.3" lengthAdjust="spacingAndGlyphs">reheated</text>
<text x="417.9" y="202.9" class="sp" textLength="92.5" lengthAdjust="spacingAndGlyphs">D. octopetala</text>
<text x="417.9" y="223.1" class="sr" textLength="61.3" lengthAdjust="spacingAndGlyphs">reheated</text>
<text x="418.8" y="385.2" class="sp" textLength="61.3" lengthAdjust="spacingAndGlyphs">A. alpina</text>
<text x="485.0" y="385.2" class="sr" textLength="27.0" lengthAdjust="spacingAndGlyphs">agg.</text>
<text x="419.6" y="405.7" class="sr" textLength="61.4" lengthAdjust="spacingAndGlyphs">reheated</text>
<text x="419.6" y="562.9" class="sp" textLength="79.7" lengthAdjust="spacingAndGlyphs">V. vitis-idea</text>
<text x="418.8" y="583.1" class="sr" textLength="62.7" lengthAdjust="spacingAndGlyphs">reheated</text>
<text x="418.8" y="744.3" class="sp" textLength="103.3" lengthAdjust="spacingAndGlyphs">R. ferrugineum</text>
<text x="418.8" y="764.3" class="sr" textLength="61.8" lengthAdjust="spacingAndGlyphs">reheated</text>
<text x="234.3" y="25.6" class="tt" textLength="8.4" lengthAdjust="spacingAndGlyphs">T</text>
<text x="242.9" y="30.1" class="ts" textLength="16.4" lengthAdjust="spacingAndGlyphs">init</text>
<text x="272.0" y="25.6" class="tt" textLength="9.2" lengthAdjust="spacingAndGlyphs">T</text>
<text x="281.5" y="31.1" class="ts" textLength="25.5" lengthAdjust="spacingAndGlyphs">endo</text>
<text x="314.9" y="25.8" class="tt" textLength="9.1" lengthAdjust="spacingAndGlyphs">T</text>
<text x="324.4" y="31.2" class="ts" textLength="17.5" lengthAdjust="spacingAndGlyphs">exo</text>
<text x="388.6" y="335.6" text-anchor="end" class="tk">100</text>
<rect x="357.8" y="330.0" width="2.4" height="1.6" fill="#1b1b22"/>
<text x="90.9" y="903.9" text-anchor="middle" class="xt">30</text>
<text x="128.4" y="903.9" text-anchor="middle" class="xt">35</text>
<text x="165.6" y="903.9" text-anchor="middle" class="xt">40</text>
<text x="203.4" y="903.9" text-anchor="middle" class="xt">45</text>
<text x="240.4" y="903.9" text-anchor="middle" class="xt">50</text>
<text x="277.7" y="903.9" text-anchor="middle" class="xt">55</text>
<text x="315.3" y="903.9" text-anchor="middle" class="xt">60</text>
<text x="430.1" y="903.9" text-anchor="middle" class="xt">30</text>
<text x="468.0" y="903.9" text-anchor="middle" class="xt">35</text>
<text x="505.0" y="903.9" text-anchor="middle" class="xt">40</text>
<text x="542.6" y="903.9" text-anchor="middle" class="xt">45</text>
<text x="579.9" y="903.9" text-anchor="middle" class="xt">50</text>
<text x="617.5" y="903.9" text-anchor="middle" class="xt">55</text>
<text x="654.8" y="903.9" text-anchor="middle" class="xt">60</text>
<text x="115.3" y="925.8" class="xl" textLength="154.0" lengthAdjust="spacingAndGlyphs">Leaf temperature [°C]</text>
<text x="455.0" y="925.8" class="xl" textLength="155.6" lengthAdjust="spacingAndGlyphs">Leaf temperature [°C]</text>
</svg>
</body></html>
